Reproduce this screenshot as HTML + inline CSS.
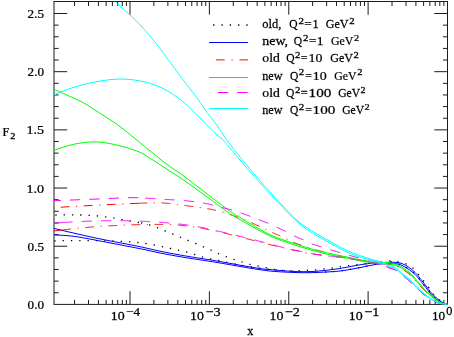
<!DOCTYPE html>
<html><head><meta charset="utf-8"><title>F2 plot</title>
<style>html,body{margin:0;padding:0;background:#fff;}body{width:454px;height:337px;position:relative;overflow:hidden;font-family:"Liberation Serif",serif;}</style>
</head><body>
<svg width="454" height="337" viewBox="0 0 454 337" style="position:absolute;left:0;top:0;will-change:transform;opacity:0.999">
<defs><clipPath id="cp"><rect x="54.0" y="1.5" width="393.5" height="302.9"/></clipPath></defs>
<g stroke="#1c1c1c" stroke-width="1" fill="none">
<rect x="54.0" y="1.5" width="393.5" height="302.9"/>
<path d="M74.52,304.4v-4.5M74.52,1.5v4.5M88.50,304.4v-4.5M88.50,1.5v4.5M98.41,304.4v-4.5M98.41,1.5v4.5M106.11,304.4v-4.5M106.11,1.5v4.5M112.39,304.4v-4.5M112.39,1.5v4.5M117.70,304.4v-4.5M117.70,1.5v4.5M122.31,304.4v-4.5M122.31,1.5v4.5M126.37,304.4v-4.5M126.37,1.5v4.5M130.00,304.4v-13.2M130.00,1.5v13.2M153.89,304.4v-4.5M153.89,1.5v4.5M167.87,304.4v-4.5M167.87,1.5v4.5M177.79,304.4v-4.5M177.79,1.5v4.5M185.48,304.4v-4.5M185.48,1.5v4.5M191.77,304.4v-4.5M191.77,1.5v4.5M197.08,304.4v-4.5M197.08,1.5v4.5M201.68,304.4v-4.5M201.68,1.5v4.5M205.74,304.4v-4.5M205.74,1.5v4.5M209.38,304.4v-13.2M209.38,1.5v13.2M233.27,304.4v-4.5M233.27,1.5v4.5M247.25,304.4v-4.5M247.25,1.5v4.5M257.16,304.4v-4.5M257.16,1.5v4.5M264.86,304.4v-4.5M264.86,1.5v4.5M271.14,304.4v-4.5M271.14,1.5v4.5M276.45,304.4v-4.5M276.45,1.5v4.5M281.06,304.4v-4.5M281.06,1.5v4.5M285.12,304.4v-4.5M285.12,1.5v4.5M288.75,304.4v-13.2M288.75,1.5v13.2M312.64,304.4v-4.5M312.64,1.5v4.5M326.62,304.4v-4.5M326.62,1.5v4.5M336.54,304.4v-4.5M336.54,1.5v4.5M344.23,304.4v-4.5M344.23,1.5v4.5M350.52,304.4v-4.5M350.52,1.5v4.5M355.83,304.4v-4.5M355.83,1.5v4.5M360.43,304.4v-4.5M360.43,1.5v4.5M364.49,304.4v-4.5M364.49,1.5v4.5M368.12,304.4v-13.2M368.12,1.5v13.2M392.02,304.4v-4.5M392.02,1.5v4.5M406.00,304.4v-4.5M406.00,1.5v4.5M415.91,304.4v-4.5M415.91,1.5v4.5M423.61,304.4v-4.5M423.61,1.5v4.5M429.89,304.4v-4.5M429.89,1.5v4.5M435.20,304.4v-4.5M435.20,1.5v4.5M439.81,304.4v-4.5M439.81,1.5v4.5M443.87,304.4v-4.5M443.87,1.5v4.5M54.0,292.76h4.6M447.5,292.76h-4.6M54.0,281.13h4.6M447.5,281.13h-4.6M54.0,269.49h4.6M447.5,269.49h-4.6M54.0,257.86h4.6M447.5,257.86h-4.6M54.0,246.22h13.2M447.5,246.22h-13.2M54.0,234.58h4.6M447.5,234.58h-4.6M54.0,222.95h4.6M447.5,222.95h-4.6M54.0,211.31h4.6M447.5,211.31h-4.6M54.0,199.68h4.6M447.5,199.68h-4.6M54.0,188.04h13.2M447.5,188.04h-13.2M54.0,176.40h4.6M447.5,176.40h-4.6M54.0,164.77h4.6M447.5,164.77h-4.6M54.0,153.13h4.6M447.5,153.13h-4.6M54.0,141.50h4.6M447.5,141.50h-4.6M54.0,129.86h13.2M447.5,129.86h-13.2M54.0,118.22h4.6M447.5,118.22h-4.6M54.0,106.59h4.6M447.5,106.59h-4.6M54.0,94.95h4.6M447.5,94.95h-4.6M54.0,83.32h4.6M447.5,83.32h-4.6M54.0,71.68h13.2M447.5,71.68h-13.2M54.0,60.04h4.6M447.5,60.04h-4.6M54.0,48.41h4.6M447.5,48.41h-4.6M54.0,36.77h4.6M447.5,36.77h-4.6M54.0,25.14h4.6M447.5,25.14h-4.6M54.0,13.50h13.2M447.5,13.50h-13.2"/>
</g>
<g clip-path="url(#cp)" fill="none" stroke-linecap="butt" stroke-linejoin="round">
<path d="M54.0,215.0 L55.0,215.0 L56.0,215.0 L57.0,214.9 L58.0,214.9 L59.0,214.9 L60.0,214.9 L61.0,214.9 L62.0,214.9 L63.0,214.9 L64.0,214.8 L65.0,214.8 L66.0,214.8 L67.0,214.8 L68.0,214.8 L69.0,214.8 L70.0,214.8 L71.0,214.8 L72.0,214.8 L73.0,214.8 L74.0,214.8 L75.0,214.9 L76.0,214.9 L77.0,214.9 L78.0,214.9 L79.0,214.9 L80.0,215.0 L81.0,215.0 L82.0,215.0 L83.0,215.1 L84.0,215.1 L85.0,215.1 L86.0,215.2 L87.0,215.2 L88.0,215.3 L89.0,215.3 L90.0,215.4 L91.0,215.5 L92.0,215.5 L93.0,215.6 L94.0,215.7 L95.0,215.7 L96.0,215.8 L97.0,215.9 L98.0,216.0 L99.0,216.1 L100.0,216.2 L101.0,216.3 L102.0,216.4 L103.0,216.5 L104.0,216.7 L105.0,216.8 L106.0,216.9 L107.0,217.1 L108.0,217.2 L109.0,217.3 L110.0,217.5 L111.0,217.7 L112.0,217.8 L113.0,218.0 L114.0,218.1 L115.0,218.3 L116.0,218.5 L117.0,218.7 L118.0,218.8 L119.0,219.0 L120.0,219.2 L121.0,219.4 L122.0,219.6 L123.0,219.8 L124.0,219.9 L125.0,220.1 L126.0,220.3 L127.0,220.5 L128.0,220.7 L129.0,220.8 L130.0,221.0 L131.0,221.2 L132.0,221.3 L133.0,221.5 L134.0,221.6 L135.0,221.8 L136.0,222.0 L137.0,222.1 L138.0,222.3 L139.0,222.5 L140.0,222.7 L141.0,222.9" stroke="#000000" stroke-width="1.3" stroke-dasharray="1.3 7.0" stroke-dashoffset="6.95"/>
<path d="M141.0,222.9 L142.0,223.1 L143.0,223.3 L144.0,223.5 L145.0,223.7 L146.0,224.0 L147.0,224.2 L148.0,224.5 L149.0,224.8 L150.0,225.0 L151.0,225.4 L152.0,225.7 L153.0,226.0 L154.0,226.4 L155.0,226.8 L156.0,227.2 L157.0,227.6 L158.0,228.0 L159.0,228.4 L160.0,228.8 L161.0,229.2 L162.0,229.6 L163.0,230.1 L164.0,230.5 L165.0,230.9 L166.0,231.3 L167.0,231.7 L168.0,232.1 L169.0,232.5 L170.0,233.0 L171.0,233.4 L172.0,233.8 L173.0,234.2 L174.0,234.6 L175.0,235.0 L176.0,235.4 L177.0,235.8 L178.0,236.2 L179.0,236.7 L180.0,237.1 L181.0,237.5 L182.0,237.9 L183.0,238.3 L184.0,238.7 L185.0,239.1 L186.0,239.5 L187.0,240.0 L188.0,240.4 L189.0,240.8 L190.0,241.2 L191.0,241.6 L192.0,242.0 L193.0,242.4 L194.0,242.9 L195.0,243.3 L196.0,243.7 L197.0,244.1 L198.0,244.5 L199.0,245.0 L200.0,245.4 L201.0,245.8 L202.0,246.2 L203.0,246.7 L204.0,247.1 L205.0,247.5 L206.0,247.9 L207.0,248.4 L208.0,248.8 L209.0,249.2 L210.0,249.6 L211.0,250.1 L212.0,250.6 L213.0,251.1 L214.0,251.6 L215.0,252.1 L216.0,252.6 L217.0,253.1 L218.0,253.5 L219.0,253.9 L220.0,254.3 L221.0,254.7 L222.0,255.1 L223.0,255.5 L224.0,255.8 L225.0,256.2 L226.0,256.6 L227.0,256.9 L228.0,257.3 L229.0,257.7 L230.0,258.1 L231.0,258.5 L232.0,258.8 L233.0,259.2 L234.0,259.5 L235.0,259.8 L236.0,260.1 L237.0,260.5 L238.0,260.8 L239.0,261.1 L240.0,261.4 L241.0,261.7 L242.0,262.0 L243.0,262.3 L244.0,262.7 L245.0,263.0 L246.0,263.3 L247.0,263.6 L248.0,263.9 L249.0,264.2 L250.0,264.4 L251.0,264.7 L252.0,264.9 L253.0,265.1 L254.0,265.3 L255.0,265.4 L256.0,265.6 L257.0,265.8 L258.0,266.0 L259.0,266.2 L260.0,266.4 L261.0,266.6 L262.0,266.8 L263.0,267.0 L264.0,267.2 L265.0,267.4 L266.0,267.6 L267.0,267.8 L268.0,268.0 L269.0,268.2 L270.0,268.4 L271.0,268.6 L272.0,268.8 L273.0,269.0 L274.0,269.2 L275.0,269.3 L276.0,269.5 L277.0,269.7 L278.0,269.8 L279.0,270.0 L280.0,270.1 L281.0,270.2 L282.0,270.4 L283.0,270.5 L284.0,270.6 L285.0,270.7 L286.0,270.8 L287.0,270.8 L288.0,270.9 L289.0,270.9 L290.0,270.9 L291.0,270.9 L292.0,270.9 L293.0,270.8 L294.0,270.8 L295.0,270.8 L296.0,270.8 L297.0,270.7 L298.0,270.7 L299.0,270.7 L300.0,270.6 L301.0,270.6 L302.0,270.6 L303.0,270.5 L304.0,270.5 L305.0,270.4 L306.0,270.4 L307.0,270.4 L308.0,270.3 L309.0,270.3 L310.0,270.3 L311.0,270.2 L312.0,270.2 L313.0,270.1 L314.0,270.1 L315.0,270.0 L316.0,269.9 L317.0,269.8 L318.0,269.7 L319.0,269.5 L320.0,269.4 L321.0,269.3 L322.0,269.2 L323.0,269.1 L324.0,268.9 L325.0,268.8 L326.0,268.7 L327.0,268.6 L328.0,268.5 L329.0,268.3 L330.0,268.2 L331.0,268.1 L332.0,268.0 L333.0,267.8 L334.0,267.7 L335.0,267.5 L336.0,267.4 L337.0,267.2 L338.0,267.1 L339.0,266.9 L340.0,266.8 L341.0,266.7 L342.0,266.6 L343.0,266.4 L344.0,266.3 L345.0,266.2 L346.0,266.1 L347.0,266.0 L348.0,265.8 L349.0,265.7 L350.0,265.6 L351.0,265.5 L352.0,265.3 L353.0,265.2 L354.0,265.1 L355.0,264.9 L356.0,264.8 L357.0,264.7 L358.0,264.6 L359.0,264.5 L360.0,264.4 L361.0,264.2 L362.0,264.1 L363.0,264.0 L364.0,263.9 L365.0,263.7 L366.0,263.6 L367.0,263.5 L368.0,263.3 L369.0,263.2 L370.0,263.1 L371.0,262.9 L372.0,262.8 L373.0,262.7 L374.0,262.6 L375.0,262.4 L376.0,262.3 L377.0,262.2 L378.0,262.1 L379.0,261.9 L380.0,261.8 L381.0,261.7 L382.0,261.6 L383.0,261.5 L384.0,261.4 L385.0,261.3 L386.0,261.2 L387.0,261.1 L388.0,261.0 L389.0,260.9 L390.0,260.9 L391.0,260.9 L392.0,260.9 L393.0,261.0 L394.0,261.1 L395.0,261.3 L396.0,261.4 L397.0,261.6 L398.0,261.8 L399.0,262.0 L400.0,262.2 L401.0,262.5 L402.0,262.7 L403.0,263.0 L404.0,263.3 L405.0,263.6 L406.0,263.9 L407.0,264.3 L408.0,264.7 L409.0,265.1 L410.0,265.7 L411.0,266.4 L412.0,267.2 L413.0,268.1 L414.0,269.2 L415.0,270.3 L416.0,271.4 L417.0,272.6 L418.0,273.9 L419.0,275.1 L420.0,276.4 L421.0,277.7 L422.0,278.9 L423.0,280.2 L424.0,281.5 L425.0,282.8 L426.0,284.1 L427.0,285.3 L428.0,286.6 L429.0,287.9 L430.0,289.3 L431.0,290.9 L432.0,292.5 L433.0,294.0 L434.0,295.3 L435.0,296.4 L436.0,297.4 L437.0,298.2 L438.0,299.0 L439.0,299.7 L440.0,300.3 L441.0,300.9 L442.0,301.5 L443.0,302.1 L444.0,302.6 L445.0,303.1 L446.0,303.5 L447.0,303.9 L448.0,304.3" stroke="#000000" stroke-width="1.3" stroke-dasharray="1.3 7.0" stroke-dashoffset="0"/>
<path d="M54.0,240.9 L55.0,240.9 L56.0,240.8 L57.0,240.8 L58.0,240.8 L59.0,240.8 L60.0,240.8 L61.0,240.7 L62.0,240.7 L63.0,240.7 L64.0,240.7 L65.0,240.7 L66.0,240.7 L67.0,240.7 L68.0,240.7 L69.0,240.6 L70.0,240.6 L71.0,240.6 L72.0,240.6 L73.0,240.6 L74.0,240.6 L75.0,240.6 L76.0,240.6 L77.0,240.6 L78.0,240.6 L79.0,240.6 L80.0,240.6 L81.0,240.6 L82.0,240.6 L83.0,240.6 L84.0,240.6 L85.0,240.6 L86.0,240.6 L87.0,240.6 L88.0,240.6 L89.0,240.6 L90.0,240.6 L91.0,240.6 L92.0,240.7 L93.0,240.7 L94.0,240.7 L95.0,240.7 L96.0,240.7 L97.0,240.7 L98.0,240.7 L99.0,240.7 L100.0,240.8 L101.0,240.8 L102.0,240.8 L103.0,240.8 L104.0,240.8 L105.0,240.8 L106.0,240.9 L107.0,240.9 L108.0,240.9 L109.0,240.9 L110.0,240.9 L111.0,241.0 L112.0,241.0 L113.0,241.0 L114.0,241.0 L115.0,241.1 L116.0,241.1 L117.0,241.1 L118.0,241.1 L119.0,241.2 L120.0,241.2 L121.0,241.3 L122.0,241.3 L123.0,241.4 L124.0,241.4 L125.0,241.5 L126.0,241.5 L127.0,241.6 L128.0,241.7 L129.0,241.7 L130.0,241.8 L131.0,241.9 L132.0,242.0 L133.0,242.1 L134.0,242.1 L135.0,242.2 L136.0,242.3 L137.0,242.4 L138.0,242.5 L139.0,242.6 L140.0,242.8 L141.0,242.9 L142.0,243.0 L143.0,243.1 L144.0,243.3 L145.0,243.4 L146.0,243.6 L147.0,243.7 L148.0,243.9 L149.0,244.1 L150.0,244.3 L151.0,244.4 L152.0,244.6 L153.0,244.8 L154.0,245.0 L155.0,245.2 L156.0,245.4 L157.0,245.6 L158.0,245.8 L159.0,246.0 L160.0,246.2 L161.0,246.4 L162.0,246.6 L163.0,246.8 L164.0,247.1 L165.0,247.3 L166.0,247.5 L167.0,247.7 L168.0,247.9 L169.0,248.1 L170.0,248.3 L171.0,248.5 L172.0,248.8 L173.0,249.0 L174.0,249.2 L175.0,249.4 L176.0,249.7 L177.0,249.9 L178.0,250.1 L179.0,250.3 L180.0,250.6 L181.0,250.8 L182.0,251.0 L183.0,251.3 L184.0,251.5 L185.0,251.7 L186.0,252.0 L187.0,252.2 L188.0,252.5 L189.0,252.8 L190.0,253.1 L191.0,253.4 L192.0,253.7 L193.0,254.0 L194.0,254.3 L195.0,254.6 L196.0,254.9 L197.0,255.3 L198.0,255.6 L199.0,255.9 L200.0,256.2 L201.0,256.5 L202.0,256.8 L203.0,257.1 L204.0,257.4 L205.0,257.7 L206.0,257.9 L207.0,258.2 L208.0,258.4 L209.0,258.6 L210.0,258.8 L211.0,259.0 L212.0,259.2 L213.0,259.4 L214.0,259.6 L215.0,259.8 L216.0,260.0 L217.0,260.2 L218.0,260.4 L219.0,260.6 L220.0,260.8 L221.0,261.0 L222.0,261.2 L223.0,261.4 L224.0,261.7 L225.0,261.9 L226.0,262.1 L227.0,262.3 L228.0,262.5 L229.0,262.7 L230.0,262.9 L231.0,263.1 L232.0,263.3 L233.0,263.5 L234.0,263.7 L235.0,263.9 L236.0,264.1 L237.0,264.3 L238.0,264.5 L239.0,264.7 L240.0,264.9 L241.0,265.1 L242.0,265.3 L243.0,265.5 L244.0,265.6 L245.0,265.8 L246.0,266.0 L247.0,266.2 L248.0,266.4 L249.0,266.5 L250.0,266.7 L251.0,266.9 L252.0,267.0 L253.0,267.2 L254.0,267.4 L255.0,267.5 L256.0,267.7 L257.0,267.8 L258.0,268.0 L259.0,268.1 L260.0,268.2 L261.0,268.4 L262.0,268.5 L263.0,268.6 L264.0,268.7 L265.0,268.9 L266.0,269.0 L267.0,269.1 L268.0,269.2 L269.0,269.3 L270.0,269.4 L271.0,269.5 L272.0,269.6 L273.0,269.7 L274.0,269.8 L275.0,269.9 L276.0,270.0 L277.0,270.1 L278.0,270.2 L279.0,270.2 L280.0,270.3 L281.0,270.4 L282.0,270.5 L283.0,270.6 L284.0,270.7 L285.0,270.8 L286.0,270.9 L287.0,271.0 L288.0,271.1 L289.0,271.2 L290.0,271.2 L291.0,271.3 L292.0,271.4 L293.0,271.5 L294.0,271.5 L295.0,271.6 L296.0,271.7 L297.0,271.7 L298.0,271.8 L299.0,271.8 L300.0,271.9 L301.0,271.9 L302.0,271.9 L303.0,272.0 L304.0,272.0 L305.0,272.0 L306.0,272.0 L307.0,272.0 L308.0,272.1 L309.0,272.1 L310.0,272.1 L311.0,272.1 L312.0,272.1 L313.0,272.1 L314.0,272.1 L315.0,272.1 L316.0,272.1 L317.0,272.1 L318.0,272.1 L319.0,272.1 L320.0,272.1 L321.0,272.1 L322.0,272.1 L323.0,272.1 L324.0,272.0 L325.0,272.0 L326.0,272.0 L327.0,271.9 L328.0,271.9 L329.0,271.9 L330.0,271.8 L331.0,271.8 L332.0,271.7 L333.0,271.6 L334.0,271.6 L335.0,271.5 L336.0,271.4 L337.0,271.3 L338.0,271.2 L339.0,271.1 L340.0,271.0 L341.0,270.8 L342.0,270.7 L343.0,270.5 L344.0,270.4 L345.0,270.2 L346.0,270.1 L347.0,269.9 L348.0,269.8 L349.0,269.6 L350.0,269.4 L351.0,269.2 L352.0,269.1 L353.0,268.9 L354.0,268.7 L355.0,268.5 L356.0,268.3 L357.0,268.1 L358.0,267.9 L359.0,267.7 L360.0,267.5 L361.0,267.3 L362.0,267.1 L363.0,266.8 L364.0,266.6 L365.0,266.4 L366.0,266.2 L367.0,266.0 L368.0,265.8 L369.0,265.6 L370.0,265.3 L371.0,265.1 L372.0,264.9 L373.0,264.7 L374.0,264.5 L375.0,264.3 L376.0,264.1 L377.0,263.9 L378.0,263.7 L379.0,263.5 L380.0,263.2 L381.0,263.1 L382.0,262.9 L383.0,262.7 L384.0,262.5 L385.0,262.3 L386.0,262.1 L387.0,262.0 L388.0,261.8 L389.0,261.7 L390.0,261.6 L391.0,261.7 L392.0,261.9 L393.0,262.1 L394.0,262.4 L395.0,262.7 L396.0,263.1 L397.0,263.4 L398.0,263.8 L399.0,264.1 L400.0,264.5 L401.0,264.9 L402.0,265.3 L403.0,265.8 L404.0,266.2 L405.0,266.8 L406.0,267.3 L407.0,267.9 L408.0,268.6 L409.0,269.2 L410.0,269.9 L411.0,270.7 L412.0,271.5 L413.0,272.3 L414.0,273.2 L415.0,274.1 L416.0,275.1 L417.0,276.2 L418.0,277.4 L419.0,278.7 L420.0,279.9 L421.0,281.2 L422.0,282.4 L423.0,283.7 L424.0,285.0 L425.0,286.3 L426.0,287.6 L427.0,288.9 L428.0,290.2 L429.0,291.5 L430.0,292.8 L431.0,294.1 L432.0,295.2 L433.0,296.3 L434.0,297.2 L435.0,298.1 L436.0,298.9 L437.0,299.7 L438.0,300.5 L439.0,301.1 L440.0,301.8 L441.0,302.3 L442.0,302.8 L443.0,303.3 L444.0,303.7 L445.0,304.0 L446.0,304.2 L447.0,304.3 L448.0,304.3" stroke="#000000" stroke-width="1.3" stroke-dasharray="1.3 7.0" stroke-dashoffset="7.95"/>
<path d="M54.0,228.4 L55.0,228.6 L56.0,228.9 L57.0,229.1 L58.0,229.4 L59.0,229.6 L60.0,229.9 L61.0,230.1 L62.0,230.3 L63.0,230.6 L64.0,230.8 L65.0,231.1 L66.0,231.3 L67.0,231.5 L68.0,231.8 L69.0,232.0 L70.0,232.2 L71.0,232.5 L72.0,232.7 L73.0,232.9 L74.0,233.2 L75.0,233.4 L76.0,233.6 L77.0,233.8 L78.0,234.1 L79.0,234.3 L80.0,234.5 L81.0,234.8 L82.0,235.0 L83.0,235.2 L84.0,235.4 L85.0,235.7 L86.0,235.9 L87.0,236.1 L88.0,236.3 L89.0,236.5 L90.0,236.8 L91.0,237.0 L92.0,237.2 L93.0,237.4 L94.0,237.6 L95.0,237.8 L96.0,238.1 L97.0,238.3 L98.0,238.5 L99.0,238.7 L100.0,238.9 L101.0,239.1 L102.0,239.3 L103.0,239.5 L104.0,239.7 L105.0,239.9 L106.0,240.1 L107.0,240.3 L108.0,240.5 L109.0,240.7 L110.0,240.9 L111.0,241.1 L112.0,241.3 L113.0,241.5 L114.0,241.7 L115.0,241.9 L116.0,242.1 L117.0,242.2 L118.0,242.4 L119.0,242.6 L120.0,242.8 L121.0,243.0 L122.0,243.2 L123.0,243.4 L124.0,243.6 L125.0,243.8 L126.0,243.9 L127.0,244.1 L128.0,244.3 L129.0,244.5 L130.0,244.7 L131.0,244.9 L132.0,245.1 L133.0,245.3 L134.0,245.5 L135.0,245.7 L136.0,245.9 L137.0,246.1 L138.0,246.3 L139.0,246.5 L140.0,246.7 L141.0,246.9 L142.0,247.1 L143.0,247.3 L144.0,247.6 L145.0,247.8 L146.0,248.0 L147.0,248.2 L148.0,248.5 L149.0,248.7 L150.0,248.9 L151.0,249.2 L152.0,249.4 L153.0,249.6 L154.0,249.9 L155.0,250.1 L156.0,250.3 L157.0,250.5 L158.0,250.8 L159.0,251.0 L160.0,251.2 L161.0,251.4 L162.0,251.6 L163.0,251.8 L164.0,252.0 L165.0,252.2 L166.0,252.4 L167.0,252.6 L168.0,252.8 L169.0,253.0 L170.0,253.2 L171.0,253.4 L172.0,253.5 L173.0,253.7 L174.0,253.9 L175.0,254.1 L176.0,254.3 L177.0,254.5 L178.0,254.6 L179.0,254.8 L180.0,255.0 L181.0,255.2 L182.0,255.3 L183.0,255.5 L184.0,255.7 L185.0,255.9 L186.0,256.0 L187.0,256.2 L188.0,256.4 L189.0,256.5 L190.0,256.7 L191.0,256.9 L192.0,257.0 L193.0,257.2 L194.0,257.3 L195.0,257.5 L196.0,257.7 L197.0,257.8 L198.0,258.0 L199.0,258.1 L200.0,258.3 L201.0,258.4 L202.0,258.6 L203.0,258.7 L204.0,258.9 L205.0,259.1 L206.0,259.2 L207.0,259.4 L208.0,259.5 L209.0,259.7 L210.0,259.9 L211.0,260.0 L212.0,260.2 L213.0,260.3 L214.0,260.5 L215.0,260.7 L216.0,260.9 L217.0,261.0 L218.0,261.2 L219.0,261.4 L220.0,261.5 L221.0,261.7 L222.0,261.9 L223.0,262.1 L224.0,262.3 L225.0,262.4 L226.0,262.6 L227.0,262.8 L228.0,263.0 L229.0,263.2 L230.0,263.4 L231.0,263.5 L232.0,263.7 L233.0,263.9 L234.0,264.1 L235.0,264.3 L236.0,264.4 L237.0,264.6 L238.0,264.8 L239.0,265.0 L240.0,265.2 L241.0,265.4 L242.0,265.5 L243.0,265.7 L244.0,265.9 L245.0,266.1 L246.0,266.2 L247.0,266.4 L248.0,266.6 L249.0,266.8 L250.0,266.9 L251.0,267.1 L252.0,267.3 L253.0,267.4 L254.0,267.6 L255.0,267.8 L256.0,267.9 L257.0,268.1 L258.0,268.2 L259.0,268.4 L260.0,268.5 L261.0,268.7 L262.0,268.8 L263.0,268.9 L264.0,269.1 L265.0,269.2 L266.0,269.3 L267.0,269.4 L268.0,269.5 L269.0,269.5 L270.0,269.6 L271.0,269.7 L272.0,269.8 L273.0,269.9 L274.0,270.0 L275.0,270.1 L276.0,270.1 L277.0,270.2 L278.0,270.3 L279.0,270.4 L280.0,270.5 L281.0,270.5 L282.0,270.6 L283.0,270.7 L284.0,270.8 L285.0,270.9 L286.0,270.9 L287.0,271.0 L288.0,271.1 L289.0,271.1 L290.0,271.2 L291.0,271.3 L292.0,271.3 L293.0,271.4 L294.0,271.4 L295.0,271.5 L296.0,271.6 L297.0,271.6 L298.0,271.6 L299.0,271.7 L300.0,271.7 L301.0,271.7 L302.0,271.7 L303.0,271.7 L304.0,271.7 L305.0,271.7 L306.0,271.7 L307.0,271.7 L308.0,271.7 L309.0,271.6 L310.0,271.6 L311.0,271.6 L312.0,271.5 L313.0,271.5 L314.0,271.4 L315.0,271.3 L316.0,271.3 L317.0,271.2 L318.0,271.1 L319.0,271.0 L320.0,270.9 L321.0,270.8 L322.0,270.7 L323.0,270.6 L324.0,270.5 L325.0,270.4 L326.0,270.3 L327.0,270.2 L328.0,270.1 L329.0,269.9 L330.0,269.8 L331.0,269.7 L332.0,269.6 L333.0,269.4 L334.0,269.3 L335.0,269.2 L336.0,269.0 L337.0,268.9 L338.0,268.7 L339.0,268.6 L340.0,268.4 L341.0,268.3 L342.0,268.1 L343.0,267.9 L344.0,267.8 L345.0,267.6 L346.0,267.4 L347.0,267.2 L348.0,267.0 L349.0,266.8 L350.0,266.6 L351.0,266.4 L352.0,266.2 L353.0,266.0 L354.0,265.9 L355.0,265.7 L356.0,265.5 L357.0,265.3 L358.0,265.1 L359.0,265.0 L360.0,264.8 L361.0,264.6 L362.0,264.5 L363.0,264.3 L364.0,264.2 L365.0,264.1 L366.0,263.9 L367.0,263.8 L368.0,263.7 L369.0,263.5 L370.0,263.4 L371.0,263.3 L372.0,263.2 L373.0,263.1 L374.0,263.0 L375.0,262.9 L376.0,262.8 L377.0,262.8 L378.0,262.7 L379.0,262.6 L380.0,262.6 L381.0,262.6 L382.0,262.5 L383.0,262.5 L384.0,262.5 L385.0,262.4 L386.0,262.4 L387.0,262.4 L388.0,262.4 L389.0,262.4 L390.0,262.4 L391.0,262.4 L392.0,262.3 L393.0,262.3 L394.0,262.3 L395.0,262.4 L396.0,262.4 L397.0,262.5 L398.0,262.6 L399.0,262.8 L400.0,263.0 L401.0,263.3 L402.0,263.7 L403.0,264.0 L404.0,264.5 L405.0,264.9 L406.0,265.5 L407.0,266.0 L408.0,266.7 L409.0,267.4 L410.0,268.1 L411.0,268.9 L412.0,269.7 L413.0,270.6 L414.0,271.5 L415.0,272.4 L416.0,273.4 L417.0,274.5 L418.0,275.7 L419.0,276.9 L420.0,278.2 L421.0,279.5 L422.0,280.7 L423.0,282.0 L424.0,283.3 L425.0,284.6 L426.0,285.9 L427.0,287.2 L428.0,288.6 L429.0,289.9 L430.0,291.2 L431.0,292.4 L432.0,293.6 L433.0,294.7 L434.0,295.7 L435.0,296.6 L436.0,297.5 L437.0,298.4 L438.0,299.3 L439.0,300.0 L440.0,300.8 L441.0,301.5 L442.0,302.2 L443.0,302.8 L444.0,303.3 L445.0,303.7 L446.0,304.0 L447.0,304.2 L448.0,304.3" stroke="#0000ff" stroke-width="1.0"/>
<path d="M54.0,234.9 L55.0,234.9 L56.0,235.0 L57.0,235.0 L58.0,235.1 L59.0,235.1 L60.0,235.2 L61.0,235.2 L62.0,235.3 L63.0,235.3 L64.0,235.4 L65.0,235.5 L66.0,235.5 L67.0,235.6 L68.0,235.7 L69.0,235.8 L70.0,235.9 L71.0,236.0 L72.0,236.1 L73.0,236.2 L74.0,236.3 L75.0,236.5 L76.0,236.6 L77.0,236.8 L78.0,236.9 L79.0,237.1 L80.0,237.3 L81.0,237.4 L82.0,237.6 L83.0,237.8 L84.0,238.0 L85.0,238.2 L86.0,238.3 L87.0,238.5 L88.0,238.7 L89.0,238.9 L90.0,239.1 L91.0,239.3 L92.0,239.5 L93.0,239.6 L94.0,239.8 L95.0,240.0 L96.0,240.2 L97.0,240.4 L98.0,240.6 L99.0,240.8 L100.0,241.0 L101.0,241.2 L102.0,241.4 L103.0,241.6 L104.0,241.7 L105.0,241.9 L106.0,242.1 L107.0,242.3 L108.0,242.5 L109.0,242.7 L110.0,242.9 L111.0,243.1 L112.0,243.3 L113.0,243.5 L114.0,243.7 L115.0,243.9 L116.0,244.0 L117.0,244.2 L118.0,244.4 L119.0,244.6 L120.0,244.8 L121.0,245.0 L122.0,245.2 L123.0,245.4 L124.0,245.6 L125.0,245.8 L126.0,246.0 L127.0,246.2 L128.0,246.4 L129.0,246.6 L130.0,246.7 L131.0,246.9 L132.0,247.1 L133.0,247.3 L134.0,247.5 L135.0,247.7 L136.0,247.9 L137.0,248.1 L138.0,248.3 L139.0,248.5 L140.0,248.7 L141.0,248.9 L142.0,249.1 L143.0,249.3 L144.0,249.5 L145.0,249.7 L146.0,249.9 L147.0,250.2 L148.0,250.4 L149.0,250.6 L150.0,250.8 L151.0,251.1 L152.0,251.3 L153.0,251.5 L154.0,251.7 L155.0,251.9 L156.0,252.2 L157.0,252.4 L158.0,252.6 L159.0,252.8 L160.0,253.0 L161.0,253.2 L162.0,253.4 L163.0,253.6 L164.0,253.8 L165.0,254.0 L166.0,254.2 L167.0,254.4 L168.0,254.5 L169.0,254.7 L170.0,254.9 L171.0,255.1 L172.0,255.3 L173.0,255.4 L174.0,255.6 L175.0,255.8 L176.0,256.0 L177.0,256.2 L178.0,256.3 L179.0,256.5 L180.0,256.7 L181.0,256.8 L182.0,257.0 L183.0,257.2 L184.0,257.3 L185.0,257.5 L186.0,257.7 L187.0,257.8 L188.0,258.0 L189.0,258.1 L190.0,258.3 L191.0,258.5 L192.0,258.6 L193.0,258.8 L194.0,258.9 L195.0,259.1 L196.0,259.2 L197.0,259.4 L198.0,259.5 L199.0,259.7 L200.0,259.8 L201.0,260.0 L202.0,260.1 L203.0,260.3 L204.0,260.4 L205.0,260.6 L206.0,260.7 L207.0,260.9 L208.0,261.0 L209.0,261.2 L210.0,261.4 L211.0,261.5 L212.0,261.7 L213.0,261.8 L214.0,262.0 L215.0,262.1 L216.0,262.3 L217.0,262.5 L218.0,262.6 L219.0,262.8 L220.0,263.0 L221.0,263.1 L222.0,263.3 L223.0,263.5 L224.0,263.7 L225.0,263.8 L226.0,264.0 L227.0,264.2 L228.0,264.3 L229.0,264.5 L230.0,264.7 L231.0,264.9 L232.0,265.0 L233.0,265.2 L234.0,265.4 L235.0,265.6 L236.0,265.7 L237.0,265.9 L238.0,266.1 L239.0,266.3 L240.0,266.4 L241.0,266.6 L242.0,266.8 L243.0,266.9 L244.0,267.1 L245.0,267.3 L246.0,267.5 L247.0,267.6 L248.0,267.8 L249.0,268.0 L250.0,268.1 L251.0,268.3 L252.0,268.5 L253.0,268.6 L254.0,268.8 L255.0,268.9 L256.0,269.1 L257.0,269.3 L258.0,269.4 L259.0,269.6 L260.0,269.7 L261.0,269.9 L262.0,270.0 L263.0,270.2 L264.0,270.3 L265.0,270.4 L266.0,270.5 L267.0,270.7 L268.0,270.8 L269.0,270.9 L270.0,271.0 L271.0,271.1 L272.0,271.2 L273.0,271.3 L274.0,271.4 L275.0,271.4 L276.0,271.5 L277.0,271.6 L278.0,271.7 L279.0,271.7 L280.0,271.8 L281.0,271.9 L282.0,271.9 L283.0,272.0 L284.0,272.0 L285.0,272.1 L286.0,272.1 L287.0,272.2 L288.0,272.2 L289.0,272.3 L290.0,272.3 L291.0,272.3 L292.0,272.4 L293.0,272.4 L294.0,272.5 L295.0,272.5 L296.0,272.5 L297.0,272.6 L298.0,272.6 L299.0,272.6 L300.0,272.7 L301.0,272.7 L302.0,272.7 L303.0,272.7 L304.0,272.7 L305.0,272.7 L306.0,272.7 L307.0,272.7 L308.0,272.7 L309.0,272.7 L310.0,272.7 L311.0,272.7 L312.0,272.6 L313.0,272.6 L314.0,272.6 L315.0,272.5 L316.0,272.5 L317.0,272.5 L318.0,272.4 L319.0,272.4 L320.0,272.3 L321.0,272.3 L322.0,272.2 L323.0,272.2 L324.0,272.1 L325.0,272.1 L326.0,272.0 L327.0,272.0 L328.0,271.9 L329.0,271.9 L330.0,271.8 L331.0,271.7 L332.0,271.7 L333.0,271.6 L334.0,271.5 L335.0,271.4 L336.0,271.4 L337.0,271.3 L338.0,271.2 L339.0,271.1 L340.0,271.0 L341.0,270.8 L342.0,270.7 L343.0,270.6 L344.0,270.4 L345.0,270.3 L346.0,270.1 L347.0,270.0 L348.0,269.8 L349.0,269.6 L350.0,269.4 L351.0,269.3 L352.0,269.1 L353.0,268.9 L354.0,268.7 L355.0,268.5 L356.0,268.3 L357.0,268.1 L358.0,268.0 L359.0,267.8 L360.0,267.6 L361.0,267.4 L362.0,267.2 L363.0,267.0 L364.0,266.8 L365.0,266.6 L366.0,266.3 L367.0,266.1 L368.0,265.9 L369.0,265.7 L370.0,265.5 L371.0,265.3 L372.0,265.1 L373.0,264.9 L374.0,264.7 L375.0,264.6 L376.0,264.4 L377.0,264.3 L378.0,264.2 L379.0,264.1 L380.0,264.0 L381.0,263.9 L382.0,263.9 L383.0,263.8 L384.0,263.7 L385.0,263.7 L386.0,263.6 L387.0,263.6 L388.0,263.6 L389.0,263.5 L390.0,263.5 L391.0,263.4 L392.0,263.4 L393.0,263.5 L394.0,263.5 L395.0,263.6 L396.0,263.7 L397.0,263.9 L398.0,264.0 L399.0,264.3 L400.0,264.6 L401.0,265.0 L402.0,265.5 L403.0,266.0 L404.0,266.5 L405.0,267.1 L406.0,267.7 L407.0,268.3 L408.0,268.9 L409.0,269.6 L410.0,270.3 L411.0,271.0 L412.0,271.8 L413.0,272.6 L414.0,273.5 L415.0,274.4 L416.0,275.4 L417.0,276.5 L418.0,277.7 L419.0,278.9 L420.0,280.2 L421.0,281.4 L422.0,282.7 L423.0,283.9 L424.0,285.2 L425.0,286.5 L426.0,287.8 L427.0,289.1 L428.0,290.4 L429.0,291.7 L430.0,293.0 L431.0,294.2 L432.0,295.4 L433.0,296.4 L434.0,297.4 L435.0,298.2 L436.0,299.1 L437.0,299.8 L438.0,300.5 L439.0,301.2 L440.0,301.8 L441.0,302.4 L442.0,302.9 L443.0,303.4 L444.0,303.7 L445.0,304.0 L446.0,304.2 L447.0,304.3 L448.0,304.3" stroke="#0000ff" stroke-width="1.0"/>
<path d="M54.0,207.6 L55.0,207.5 L56.0,207.5 L57.0,207.4 L58.0,207.4 L59.0,207.3 L60.0,207.2 L61.0,207.2 L62.0,207.1 L63.0,207.1 L64.0,207.0 L65.0,206.9 L66.0,206.9 L67.0,206.8 L68.0,206.8 L69.0,206.7 L70.0,206.6 L71.0,206.6 L72.0,206.5 L73.0,206.5 L74.0,206.4 L75.0,206.4 L76.0,206.3 L77.0,206.2 L78.0,206.2 L79.0,206.1 L80.0,206.1 L81.0,206.0 L82.0,206.0 L83.0,205.9 L84.0,205.9 L85.0,205.8 L86.0,205.8 L87.0,205.7 L88.0,205.6 L89.0,205.6 L90.0,205.5 L91.0,205.5 L92.0,205.4 L93.0,205.4 L94.0,205.3 L95.0,205.3 L96.0,205.2 L97.0,205.2 L98.0,205.1 L99.0,205.1 L100.0,205.0 L101.0,204.9 L102.0,204.9 L103.0,204.8 L104.0,204.8 L105.0,204.7 L106.0,204.7 L107.0,204.6 L108.0,204.6 L109.0,204.5 L110.0,204.5 L111.0,204.5 L112.0,204.4 L113.0,204.4 L114.0,204.3 L115.0,204.3 L116.0,204.2 L117.0,204.2 L118.0,204.1 L119.0,204.1 L120.0,204.1 L121.0,204.0 L122.0,204.0 L123.0,203.9 L124.0,203.9 L125.0,203.8 L126.0,203.8 L127.0,203.8 L128.0,203.7 L129.0,203.7 L130.0,203.6 L131.0,203.6 L132.0,203.5 L133.0,203.5 L134.0,203.5 L135.0,203.4 L136.0,203.4 L137.0,203.3 L138.0,203.3 L138.4,203.3" stroke="#ff0000" stroke-width="1.0" stroke-dasharray="8.8 6.6 1.15 6.6" stroke-dashoffset="16.45"/>
<path d="M138.4,203.3 L139.4,203.2 L140.4,203.2 L141.4,203.2 L142.4,203.1 L143.4,203.1 L144.4,203.0 L145.4,203.0 L146.4,203.0 L147.4,202.9 L148.4,202.9 L149.4,202.9 L150.4,202.8 L151.4,202.8 L152.4,202.8 L153.4,202.8 L154.4,202.8 L155.4,202.8 L156.4,202.8 L157.4,202.8 L158.4,202.8 L159.4,202.8 L160.4,202.8 L161.4,202.9 L162.4,202.9 L163.4,203.0 L164.4,203.0 L165.4,203.1 L166.4,203.2 L167.4,203.3 L168.4,203.4 L169.4,203.5 L170.4,203.6 L171.4,203.7 L172.4,203.8 L173.4,203.9 L174.4,204.0 L175.4,204.2 L176.4,204.3 L177.4,204.5 L178.4,204.6 L179.4,204.7 L180.4,204.9 L181.4,205.0 L182.4,205.1 L183.4,205.3 L184.4,205.4 L185.4,205.6 L186.4,205.7 L187.4,205.8 L188.4,206.0 L189.4,206.1 L190.4,206.2 L191.4,206.4 L192.4,206.5 L193.4,206.6 L194.4,206.8 L195.4,206.9 L196.4,207.1 L197.4,207.2 L198.4,207.3 L199.4,207.5 L200.4,207.6 L201.4,207.8 L202.4,207.9 L203.4,208.1 L204.4,208.2 L205.4,208.4 L206.4,208.6 L207.4,208.7 L208.4,208.9 L209.4,209.0 L210.4,209.2 L211.4,209.4 L212.4,209.6 L213.4,209.8 L214.4,210.0 L215.4,210.2 L216.4,210.5 L217.4,210.7 L218.4,210.9 L219.4,211.2 L220.4,211.5 L221.4,211.8 L222.4,212.0 L223.4,212.3 L224.4,212.6 L225.4,213.0 L226.4,213.3 L227.4,213.6 L228.4,213.9 L229.4,214.3 L230.4,214.6 L231.4,215.0 L232.4,215.3 L233.4,215.7 L234.4,216.0 L235.4,216.4 L236.4,216.8 L237.4,217.1 L238.4,217.5 L239.4,217.9 L240.4,218.3 L241.4,218.7 L242.4,219.1 L243.4,219.5 L244.4,219.9 L245.4,220.3 L246.4,220.7 L247.4,221.1 L248.4,221.5 L249.4,221.9 L250.4,222.4 L251.4,222.8 L252.4,223.2 L253.4,223.7 L254.4,224.1 L255.4,224.6 L256.4,225.0 L257.4,225.5 L258.4,225.9 L259.4,226.4 L260.4,226.9 L261.4,227.4 L262.4,227.9 L263.4,228.4 L264.4,228.8 L265.4,229.3 L266.4,229.8 L267.4,230.3 L268.4,230.8 L269.4,231.3 L270.4,231.7 L271.4,232.2 L272.4,232.6 L273.4,233.1 L274.4,233.5 L275.4,233.9 L276.4,234.3 L277.4,234.7 L278.4,235.2 L279.4,235.6 L280.4,236.1 L281.4,236.6 L282.4,237.0 L283.4,237.5 L284.4,238.0 L285.4,238.4 L286.4,238.9 L287.4,239.4 L288.4,239.9 L289.4,240.3 L290.4,240.8 L291.4,241.3 L292.4,241.8 L293.4,242.2 L294.4,242.7 L295.4,243.1 L296.4,243.5 L297.4,243.9 L298.4,244.2 L299.4,244.5 L300.4,244.9 L301.4,245.2 L302.4,245.6 L303.4,245.9 L304.4,246.3 L305.4,246.7 L306.4,247.1 L307.4,247.4 L308.4,247.8 L309.4,248.1 L310.4,248.5 L311.4,248.8 L312.4,249.1 L313.4,249.3 L314.4,249.6 L315.4,249.9 L316.4,250.1 L317.4,250.4 L318.4,250.6 L319.4,250.9 L320.4,251.1 L321.4,251.4 L322.4,251.6 L323.4,251.9 L324.4,252.1 L325.4,252.4 L326.4,252.6 L327.4,252.9 L328.4,253.1 L329.4,253.4 L330.4,253.6 L331.4,253.9 L332.4,254.1 L333.4,254.4 L334.4,254.6 L335.4,254.9 L336.4,255.1 L337.4,255.4 L338.4,255.6 L339.4,255.9 L340.4,256.1 L341.4,256.4 L342.4,256.7 L343.4,256.9 L344.4,257.2 L345.4,257.4 L346.4,257.6 L347.4,257.9 L348.4,258.1 L349.4,258.3 L350.4,258.5 L351.4,258.7 L352.4,258.9 L353.4,259.1 L354.4,259.3 L355.4,259.4 L356.4,259.6 L357.4,259.8 L358.4,259.9 L359.4,260.1 L360.4,260.2 L361.4,260.4 L362.4,260.6 L363.4,260.7 L364.4,260.9 L365.4,261.0 L366.4,261.2 L367.4,261.3 L368.4,261.5 L369.4,261.6 L370.4,261.8 L371.4,261.9 L372.4,262.1 L373.4,262.2 L374.4,262.3 L375.4,262.4 L376.4,262.6 L377.4,262.7 L378.4,262.8 L379.4,262.9 L380.4,263.0 L381.4,263.1 L382.4,263.2 L383.4,263.4 L384.4,263.5 L385.4,263.6 L386.4,263.7 L387.4,263.9 L388.4,264.0 L389.4,264.2 L390.4,264.3 L391.4,264.5 L392.4,264.7 L393.4,264.9 L394.4,265.2 L395.4,265.5 L396.4,265.8 L397.4,266.1 L398.4,266.5 L399.4,266.9 L400.4,267.4 L401.4,268.0 L402.4,268.7 L403.4,269.4 L404.4,270.1 L405.4,270.8 L406.4,271.5 L407.4,272.2 L408.4,273.0 L409.4,273.7 L410.4,274.5 L411.4,275.5 L412.4,276.5 L413.4,277.6 L414.4,278.8 L415.4,279.9 L416.4,281.0 L417.4,282.2 L418.4,283.3 L419.4,284.4 L420.4,285.6 L421.4,286.8 L422.4,287.9 L423.4,289.0 L424.4,290.1 L425.4,291.2 L426.4,292.1 L427.4,293.0 L428.4,293.8 L429.4,294.7 L430.4,295.5 L431.4,296.3 L432.4,297.1 L433.4,298.0 L434.4,298.7 L435.4,299.5 L436.4,300.2 L437.4,300.9 L438.4,301.6 L439.4,302.1 L440.4,302.6 L441.4,303.1 L442.4,303.5 L443.4,303.8 L444.4,304.0 L445.4,304.2 L446.4,304.3 L447.4,304.3 L448.0,304.3" stroke="#ff0000" stroke-width="1.0" stroke-dasharray="8.8 6.6 1.15 6.6" stroke-dashoffset="0"/>
<path d="M54.0,231.0 L55.0,230.9 L56.0,230.7 L57.0,230.6 L58.0,230.5 L59.0,230.4 L60.0,230.3 L61.0,230.1 L62.0,230.0 L62.3,230.0" stroke="#ff0000" stroke-width="1.0"/>
<path d="M62.3,230.0 L63.3,229.9 L64.3,229.7 L65.3,229.6 L66.3,229.5 L67.3,229.4 L68.3,229.3 L69.3,229.2 L70.3,229.1 L71.3,229.0 L72.3,228.8 L73.3,228.7 L74.3,228.6 L75.3,228.5 L76.3,228.4 L77.3,228.3 L78.3,228.2 L79.3,228.1 L80.3,228.0 L81.3,227.9 L82.3,227.8 L83.3,227.7 L84.3,227.6 L85.3,227.6 L86.3,227.5 L87.3,227.4 L88.3,227.3 L89.3,227.2 L90.3,227.1 L91.3,227.0 L92.3,227.0 L93.3,226.9 L94.3,226.8 L95.3,226.7 L96.3,226.7 L97.3,226.6 L98.3,226.5 L99.3,226.4 L100.3,226.4 L101.3,226.3 L102.3,226.2 L103.3,226.2 L104.3,226.1 L105.3,226.1 L106.3,226.0 L107.3,225.9 L108.3,225.9 L109.3,225.8 L110.3,225.8 L111.3,225.7 L112.3,225.7 L113.3,225.6 L114.3,225.6 L115.3,225.5 L116.3,225.5 L117.3,225.4 L118.3,225.4 L119.3,225.3 L120.3,225.3 L121.3,225.3 L122.3,225.2 L123.3,225.2 L124.3,225.1 L125.3,225.1 L126.3,225.1 L127.3,225.0 L128.3,225.0 L129.3,224.9 L130.3,224.9 L131.3,224.9 L132.3,224.8 L133.3,224.8 L134.3,224.8 L135.3,224.7 L136.3,224.7 L137.3,224.7 L138.3,224.6 L139.3,224.6 L140.3,224.6 L141.3,224.6 L142.3,224.5 L143.3,224.5 L144.3,224.5 L145.3,224.5 L146.3,224.5 L147.3,224.4 L148.3,224.4 L149.3,224.4 L150.3,224.4 L151.3,224.4 L152.3,224.4 L153.3,224.4 L154.3,224.4 L155.3,224.4 L156.3,224.4 L157.3,224.4 L158.3,224.4 L159.3,224.4 L160.3,224.4 L161.3,224.4 L162.3,224.4 L163.3,224.4 L164.3,224.4 L165.3,224.4 L166.3,224.4 L167.3,224.4 L168.3,224.5 L169.3,224.5 L170.3,224.5 L171.3,224.6 L172.3,224.6 L173.3,224.7 L174.3,224.7 L175.3,224.8 L176.3,224.9 L177.3,224.9 L178.3,225.0 L179.3,225.1 L180.3,225.2 L181.3,225.3 L182.3,225.4 L183.3,225.5 L184.3,225.6 L185.3,225.7 L186.3,225.9 L187.3,226.0 L188.3,226.1 L189.3,226.3 L190.3,226.4 L191.3,226.6 L192.3,226.7 L193.3,226.8 L194.3,227.0 L195.3,227.2 L196.3,227.3 L197.3,227.5 L198.3,227.6 L199.3,227.8 L200.3,228.0 L201.3,228.2 L202.3,228.3 L203.3,228.5 L204.3,228.7 L205.3,228.9 L206.3,229.1 L207.3,229.3 L208.3,229.5 L209.3,229.7 L210.3,229.9 L211.3,230.1 L212.3,230.3 L213.3,230.5 L214.3,230.7 L215.3,230.9 L216.3,231.2 L217.3,231.4 L218.3,231.6 L219.3,231.9 L220.3,232.1 L221.3,232.3 L222.3,232.6 L223.3,232.8 L224.3,233.1 L225.3,233.3 L226.3,233.6 L227.3,233.8 L228.3,234.1 L229.3,234.3 L230.3,234.6 L231.3,234.8 L232.3,235.1 L233.3,235.3 L234.3,235.6 L235.3,235.8 L236.3,236.1 L237.3,236.3 L238.3,236.6 L239.3,236.8 L240.3,237.1 L241.3,237.3 L242.3,237.6 L243.3,237.8 L244.3,238.1 L245.3,238.4 L246.3,238.6 L247.3,238.9 L248.3,239.1 L249.3,239.4 L250.3,239.6 L251.3,239.9 L252.3,240.1 L253.3,240.4 L254.3,240.6 L255.3,240.9 L256.3,241.2 L257.3,241.4 L258.3,241.7 L259.3,241.9 L260.3,242.2 L261.3,242.4 L262.3,242.7 L263.3,242.9 L264.3,243.2 L265.3,243.4 L266.3,243.7 L267.3,243.9 L268.3,244.2 L269.3,244.4 L270.3,244.7 L271.3,244.9 L272.3,245.2 L273.3,245.4 L274.3,245.7 L275.3,245.9 L276.3,246.1 L277.3,246.4 L278.3,246.6 L279.3,246.9 L280.3,247.1 L281.3,247.4 L282.3,247.6 L283.3,247.8 L284.3,248.1 L285.3,248.3 L286.3,248.6 L287.3,248.8 L288.3,249.0 L289.3,249.3 L290.3,249.5 L291.3,249.7 L292.3,250.0 L293.3,250.1 L294.3,250.3 L295.3,250.5 L296.3,250.6 L297.3,250.8 L298.3,251.0 L299.3,251.2 L300.3,251.5 L301.3,251.7 L302.3,252.0 L303.3,252.3 L304.3,252.6 L305.3,252.8 L306.3,253.0 L307.3,253.2 L308.3,253.4 L309.3,253.5 L310.3,253.7 L311.3,253.8 L312.3,254.0 L313.3,254.1 L314.3,254.3 L315.3,254.4 L316.3,254.5 L317.3,254.7 L318.3,254.8 L319.3,254.9 L320.3,255.0 L321.3,255.2 L322.3,255.3 L323.3,255.4 L324.3,255.5 L325.3,255.6 L326.3,255.7 L327.3,255.8 L328.3,256.0 L329.3,256.1 L330.3,256.2 L331.3,256.3 L332.3,256.4 L333.3,256.5 L334.3,256.6 L335.3,256.7 L336.3,256.8 L337.3,256.9 L338.3,257.0 L339.3,257.1 L340.3,257.2 L341.3,257.3 L342.3,257.4 L343.3,257.5 L344.3,257.6 L345.3,257.7 L346.3,257.9 L347.3,258.0 L348.3,258.1 L349.3,258.3 L350.3,258.5 L351.3,258.6 L352.3,258.8 L353.3,259.0 L354.3,259.2 L355.3,259.3 L356.3,259.5 L357.3,259.7 L358.3,259.9 L359.3,260.1 L360.3,260.3 L361.3,260.5 L362.3,260.7 L363.3,260.9 L364.3,261.1 L365.3,261.3 L366.3,261.5 L367.3,261.7 L368.3,261.8 L369.3,262.0 L370.3,262.1 L371.3,262.3 L372.3,262.4 L373.3,262.6 L374.3,262.7 L375.3,262.8 L376.3,262.9 L377.3,263.1 L378.3,263.2 L379.3,263.3 L380.3,263.4 L381.3,263.5 L382.3,263.6 L383.3,263.8 L384.3,263.9 L385.3,264.0 L386.3,264.1 L387.3,264.2 L388.3,264.4 L389.3,264.5 L390.3,264.7 L391.3,264.9 L392.3,265.1 L393.3,265.3 L394.3,265.5 L395.3,265.8 L396.3,266.1 L397.3,266.5 L398.3,266.8 L399.3,267.3 L400.3,267.8 L401.3,268.4 L402.3,269.0 L403.3,269.7 L404.3,270.4 L405.3,271.1 L406.3,271.9 L407.3,272.6 L408.3,273.3 L409.3,274.0 L410.3,274.8 L411.3,275.8 L412.3,276.8 L413.3,277.9 L414.3,279.0 L415.3,280.2 L416.3,281.3 L417.3,282.4 L418.3,283.5 L419.3,284.7 L420.3,285.8 L421.3,287.0 L422.3,288.1 L423.3,289.2 L424.3,290.3 L425.3,291.3 L426.3,292.3 L427.3,293.2 L428.3,294.0 L429.3,294.8 L430.3,295.6 L431.3,296.4 L432.3,297.3 L433.3,298.1 L434.3,298.8 L435.3,299.6 L436.3,300.3 L437.3,301.0 L438.3,301.6 L439.3,302.2 L440.3,302.7 L441.3,303.1 L442.3,303.5 L443.3,303.8 L444.3,304.1 L445.3,304.2 L446.3,304.3 L447.3,304.3 L448.0,304.3" stroke="#ff0000" stroke-width="1.0" stroke-dasharray="8.8 6.6 1.15 6.6" stroke-dashoffset="0"/>
<path d="M54.0,89.3 L55.0,89.7 L56.0,90.2 L57.0,90.6 L58.0,91.1 L59.0,91.5 L60.0,92.0 L61.0,92.4 L62.0,92.9 L63.0,93.3 L64.0,93.8 L65.0,94.2 L66.0,94.7 L67.0,95.1 L68.0,95.6 L69.0,96.0 L70.0,96.5 L71.0,96.9 L72.0,97.3 L73.0,97.8 L74.0,98.2 L75.0,98.7 L76.0,99.2 L77.0,99.6 L78.0,100.1 L79.0,100.5 L80.0,101.0 L81.0,101.5 L82.0,102.0 L83.0,102.5 L84.0,103.1 L85.0,103.7 L86.0,104.3 L87.0,104.9 L88.0,105.5 L89.0,106.1 L90.0,106.8 L91.0,107.4 L92.0,108.1 L93.0,108.7 L94.0,109.4 L95.0,110.0 L96.0,110.7 L97.0,111.3 L98.0,111.9 L99.0,112.6 L100.0,113.2 L101.0,113.9 L102.0,114.5 L103.0,115.2 L104.0,115.8 L105.0,116.5 L106.0,117.1 L107.0,117.8 L108.0,118.4 L109.0,119.1 L110.0,119.7 L111.0,120.4 L112.0,121.0 L113.0,121.6 L114.0,122.3 L115.0,123.0 L116.0,123.6 L117.0,124.3 L118.0,125.1 L119.0,125.8 L120.0,126.5 L121.0,127.3 L122.0,128.1 L123.0,128.9 L124.0,129.7 L125.0,130.5 L126.0,131.3 L127.0,132.1 L128.0,132.9 L129.0,133.7 L130.0,134.5 L131.0,135.4 L132.0,136.2 L133.0,137.0 L134.0,137.8 L135.0,138.6 L136.0,139.4 L137.0,140.2 L138.0,141.0 L139.0,141.8 L140.0,142.6 L141.0,143.5 L142.0,144.3 L143.0,145.1 L144.0,145.9 L145.0,146.7 L146.0,147.5 L147.0,148.4 L148.0,149.2 L149.0,150.0 L150.0,150.8 L151.0,151.6 L152.0,152.5 L153.0,153.3 L154.0,154.1 L155.0,154.9 L156.0,155.7 L157.0,156.5 L158.0,157.3 L159.0,158.2 L160.0,159.0 L161.0,159.8 L162.0,160.5 L163.0,161.3 L164.0,162.1 L165.0,162.9 L166.0,163.7 L167.0,164.4 L168.0,165.1 L169.0,165.9 L170.0,166.6 L171.0,167.3 L172.0,167.9 L173.0,168.6 L174.0,169.3 L175.0,170.0 L176.0,170.6 L177.0,171.3 L178.0,172.0 L179.0,172.6 L180.0,173.3 L181.0,174.0 L182.0,174.7 L183.0,175.4 L184.0,176.2 L185.0,176.9 L186.0,177.7 L187.0,178.4 L188.0,179.2 L189.0,180.0 L190.0,180.7 L191.0,181.5 L192.0,182.3 L193.0,183.0 L194.0,183.8 L195.0,184.6 L196.0,185.3 L197.0,186.1 L198.0,186.9 L199.0,187.7 L200.0,188.4 L201.0,189.2 L202.0,190.0 L203.0,190.7 L204.0,191.5 L205.0,192.3 L206.0,193.0 L207.0,193.8 L208.0,194.6 L209.0,195.3 L210.0,196.1 L211.0,196.9 L212.0,197.6 L213.0,198.4 L214.0,199.2 L215.0,199.9 L216.0,200.7 L217.0,201.5 L218.0,202.2 L219.0,203.0 L220.0,203.7 L221.0,204.5 L222.0,205.2 L223.0,206.0 L224.0,206.8 L225.0,207.5 L226.0,208.3 L227.0,209.0 L228.0,209.7 L229.0,210.5 L230.0,211.2 L231.0,211.9 L232.0,212.6 L233.0,213.2 L234.0,213.9 L235.0,214.5 L236.0,215.2 L237.0,215.8 L238.0,216.4 L239.0,217.0 L240.0,217.6 L241.0,218.2 L242.0,218.8 L243.0,219.4 L244.0,220.0 L245.0,220.6 L246.0,221.2 L247.0,221.8 L248.0,222.4 L249.0,223.0 L250.0,223.6 L251.0,224.2 L252.0,224.8 L253.0,225.4 L254.0,226.0 L255.0,226.6 L256.0,227.2 L257.0,227.7 L258.0,228.3 L259.0,228.9 L260.0,229.5 L261.0,230.0 L262.0,230.6 L263.0,231.1 L264.0,231.7 L265.0,232.2 L266.0,232.7 L267.0,233.2 L268.0,233.7 L269.0,234.2 L270.0,234.6 L271.0,235.1 L272.0,235.5 L273.0,236.0 L274.0,236.4 L275.0,236.8 L276.0,237.2 L277.0,237.6 L278.0,238.0 L279.0,238.4 L280.0,238.7 L281.0,239.1 L282.0,239.5 L283.0,239.8 L284.0,240.2 L285.0,240.5 L286.0,240.8 L287.0,241.2 L288.0,241.5 L289.0,241.9 L290.0,242.2 L291.0,242.6 L292.0,242.9 L293.0,243.2 L294.0,243.6 L295.0,243.9 L296.0,244.2 L297.0,244.5 L298.0,244.9 L299.0,245.2 L300.0,245.5 L301.0,245.8 L302.0,246.1 L303.0,246.4 L304.0,246.7 L305.0,247.0 L306.0,247.3 L307.0,247.6 L308.0,247.9 L309.0,248.2 L310.0,248.5 L311.0,248.8 L312.0,249.1 L313.0,249.3 L314.0,249.6 L315.0,249.9 L316.0,250.2 L317.0,250.4 L318.0,250.7 L319.0,251.0 L320.0,251.2 L321.0,251.5 L322.0,251.7 L323.0,252.0 L324.0,252.2 L325.0,252.5 L326.0,252.7 L327.0,252.9 L328.0,253.2 L329.0,253.4 L330.0,253.6 L331.0,253.8 L332.0,254.0 L333.0,254.2 L334.0,254.4 L335.0,254.6 L336.0,254.8 L337.0,255.0 L338.0,255.2 L339.0,255.4 L340.0,255.6 L341.0,255.8 L342.0,256.0 L343.0,256.2 L344.0,256.4 L345.0,256.6 L346.0,256.8 L347.0,257.0 L348.0,257.2 L349.0,257.4 L350.0,257.6 L351.0,257.8 L352.0,258.1 L353.0,258.3 L354.0,258.5 L355.0,258.7 L356.0,258.9 L357.0,259.1 L358.0,259.4 L359.0,259.6 L360.0,259.8 L361.0,260.0 L362.0,260.2 L363.0,260.4 L364.0,260.6 L365.0,260.9 L366.0,261.1 L367.0,261.3 L368.0,261.5 L369.0,261.7 L370.0,261.9 L371.0,262.1 L372.0,262.3 L373.0,262.4 L374.0,262.5 L375.0,262.5 L376.0,262.6 L377.0,262.6 L378.0,262.6 L379.0,262.5 L380.0,262.5 L381.0,262.5 L382.0,262.5 L383.0,262.5 L384.0,262.5 L385.0,262.5 L386.0,262.5 L387.0,262.6 L388.0,262.6 L389.0,262.8 L390.0,262.9 L391.0,263.0 L392.0,263.2 L393.0,263.4 L394.0,263.7 L395.0,263.9 L396.0,264.2 L397.0,264.6 L398.0,265.0 L399.0,265.4 L400.0,266.0 L401.0,266.5 L402.0,267.2 L403.0,267.8 L404.0,268.5 L405.0,269.2 L406.0,269.9 L407.0,270.7 L408.0,271.4 L409.0,272.1 L410.0,272.9 L411.0,273.8 L412.0,274.8 L413.0,275.9 L414.0,277.0 L415.0,278.2 L416.0,279.3 L417.0,280.5 L418.0,281.7 L419.0,282.8 L420.0,284.0 L421.0,285.2 L422.0,286.4 L423.0,287.6 L424.0,288.8 L425.0,289.8 L426.0,290.8 L427.0,291.8 L428.0,292.7 L429.0,293.6 L430.0,294.4 L431.0,295.3 L432.0,296.2 L433.0,297.0 L434.0,297.9 L435.0,298.7 L436.0,299.5 L437.0,300.2 L438.0,300.9 L439.0,301.5 L440.0,302.1 L441.0,302.6 L442.0,303.1 L443.0,303.5 L444.0,303.8 L445.0,304.0 L446.0,304.2 L447.0,304.3 L448.0,304.3" stroke="#00ff00" stroke-width="1.0"/>
<path d="M54.0,150.4 L55.0,150.0 L56.0,149.6 L57.0,149.3 L58.0,148.9 L59.0,148.5 L60.0,148.2 L61.0,147.9 L62.0,147.5 L63.0,147.2 L64.0,146.9 L65.0,146.6 L66.0,146.3 L67.0,146.0 L68.0,145.7 L69.0,145.5 L70.0,145.2 L71.0,145.0 L72.0,144.7 L73.0,144.5 L74.0,144.3 L75.0,144.0 L76.0,143.8 L77.0,143.7 L78.0,143.5 L79.0,143.3 L80.0,143.2 L81.0,143.0 L82.0,142.9 L83.0,142.7 L84.0,142.6 L85.0,142.5 L86.0,142.4 L87.0,142.3 L88.0,142.2 L89.0,142.1 L90.0,142.0 L91.0,142.0 L92.0,141.9 L93.0,141.9 L94.0,141.9 L95.0,141.9 L96.0,141.9 L97.0,142.0 L98.0,142.0 L99.0,142.1 L100.0,142.1 L101.0,142.2 L102.0,142.3 L103.0,142.5 L104.0,142.6 L105.0,142.7 L106.0,142.9 L107.0,143.1 L108.0,143.2 L109.0,143.4 L110.0,143.6 L111.0,143.8 L112.0,144.0 L113.0,144.2 L114.0,144.4 L115.0,144.6 L116.0,144.9 L117.0,145.1 L118.0,145.3 L119.0,145.6 L120.0,145.8 L121.0,146.1 L122.0,146.3 L123.0,146.6 L124.0,146.9 L125.0,147.1 L126.0,147.4 L127.0,147.7 L128.0,148.0 L129.0,148.4 L130.0,148.7 L131.0,149.0 L132.0,149.4 L133.0,149.7 L134.0,150.0 L135.0,150.4 L136.0,150.7 L137.0,151.1 L138.0,151.5 L139.0,151.9 L140.0,152.3 L141.0,152.8 L142.0,153.3 L143.0,153.8 L144.0,154.4 L145.0,155.0 L146.0,155.6 L147.0,156.3 L148.0,156.9 L149.0,157.5 L150.0,158.2 L151.0,158.8 L152.0,159.4 L153.0,160.1 L154.0,160.7 L155.0,161.4 L156.0,162.0 L157.0,162.7 L158.0,163.3 L159.0,164.0 L160.0,164.6 L161.0,165.3 L162.0,165.9 L163.0,166.6 L164.0,167.2 L165.0,167.9 L166.0,168.6 L167.0,169.2 L168.0,169.9 L169.0,170.5 L170.0,171.2 L171.0,171.8 L172.0,172.4 L173.0,173.1 L174.0,173.7 L175.0,174.4 L176.0,175.0 L177.0,175.7 L178.0,176.4 L179.0,177.0 L180.0,177.7 L181.0,178.3 L182.0,179.0 L183.0,179.7 L184.0,180.4 L185.0,181.0 L186.0,181.7 L187.0,182.4 L188.0,183.1 L189.0,183.8 L190.0,184.5 L191.0,185.3 L192.0,186.0 L193.0,186.7 L194.0,187.4 L195.0,188.1 L196.0,188.9 L197.0,189.6 L198.0,190.3 L199.0,191.1 L200.0,191.8 L201.0,192.5 L202.0,193.2 L203.0,194.0 L204.0,194.7 L205.0,195.4 L206.0,196.2 L207.0,196.9 L208.0,197.6 L209.0,198.4 L210.0,199.1 L211.0,199.8 L212.0,200.6 L213.0,201.3 L214.0,202.1 L215.0,202.8 L216.0,203.5 L217.0,204.3 L218.0,205.0 L219.0,205.8 L220.0,206.5 L221.0,207.3 L222.0,208.0 L223.0,208.7 L224.0,209.5 L225.0,210.2 L226.0,210.9 L227.0,211.6 L228.0,212.3 L229.0,213.0 L230.0,213.7 L231.0,214.3 L232.0,215.0 L233.0,215.6 L234.0,216.2 L235.0,216.8 L236.0,217.4 L237.0,218.0 L238.0,218.6 L239.0,219.2 L240.0,219.7 L241.0,220.3 L242.0,220.8 L243.0,221.4 L244.0,222.0 L245.0,222.5 L246.0,223.1 L247.0,223.6 L248.0,224.2 L249.0,224.8 L250.0,225.3 L251.0,225.9 L252.0,226.5 L253.0,227.0 L254.0,227.6 L255.0,228.2 L256.0,228.7 L257.0,229.3 L258.0,229.8 L259.0,230.4 L260.0,230.9 L261.0,231.5 L262.0,232.0 L263.0,232.5 L264.0,233.0 L265.0,233.5 L266.0,234.0 L267.0,234.5 L268.0,235.0 L269.0,235.5 L270.0,235.9 L271.0,236.4 L272.0,236.8 L273.0,237.2 L274.0,237.7 L275.0,238.1 L276.0,238.4 L277.0,238.8 L278.0,239.2 L279.0,239.6 L280.0,239.9 L281.0,240.3 L282.0,240.7 L283.0,241.0 L284.0,241.4 L285.0,241.7 L286.0,242.0 L287.0,242.4 L288.0,242.7 L289.0,243.1 L290.0,243.4 L291.0,243.8 L292.0,244.1 L293.0,244.4 L294.0,244.8 L295.0,245.1 L296.0,245.4 L297.0,245.7 L298.0,246.1 L299.0,246.4 L300.0,246.7 L301.0,247.0 L302.0,247.3 L303.0,247.6 L304.0,247.9 L305.0,248.2 L306.0,248.5 L307.0,248.8 L308.0,249.1 L309.0,249.4 L310.0,249.7 L311.0,250.0 L312.0,250.3 L313.0,250.6 L314.0,250.8 L315.0,251.1 L316.0,251.4 L317.0,251.6 L318.0,251.9 L319.0,252.2 L320.0,252.4 L321.0,252.7 L322.0,253.0 L323.0,253.2 L324.0,253.4 L325.0,253.7 L326.0,253.9 L327.0,254.2 L328.0,254.4 L329.0,254.6 L330.0,254.8 L331.0,255.0 L332.0,255.2 L333.0,255.4 L334.0,255.6 L335.0,255.8 L336.0,256.0 L337.0,256.2 L338.0,256.4 L339.0,256.6 L340.0,256.8 L341.0,257.0 L342.0,257.2 L343.0,257.4 L344.0,257.6 L345.0,257.8 L346.0,258.0 L347.0,258.2 L348.0,258.4 L349.0,258.6 L350.0,258.8 L351.0,259.0 L352.0,259.2 L353.0,259.4 L354.0,259.6 L355.0,259.8 L356.0,260.0 L357.0,260.2 L358.0,260.4 L359.0,260.6 L360.0,260.8 L361.0,261.0 L362.0,261.1 L363.0,261.3 L364.0,261.5 L365.0,261.7 L366.0,261.9 L367.0,262.1 L368.0,262.3 L369.0,262.5 L370.0,262.7 L371.0,262.9 L372.0,263.1 L373.0,263.2 L374.0,263.3 L375.0,263.4 L376.0,263.4 L377.0,263.5 L378.0,263.5 L379.0,263.5 L380.0,263.5 L381.0,263.5 L382.0,263.5 L383.0,263.6 L384.0,263.6 L385.0,263.6 L386.0,263.7 L387.0,263.7 L388.0,263.8 L389.0,264.0 L390.0,264.1 L391.0,264.3 L392.0,264.4 L393.0,264.6 L394.0,264.9 L395.0,265.1 L396.0,265.5 L397.0,265.8 L398.0,266.2 L399.0,266.6 L400.0,267.1 L401.0,267.7 L402.0,268.3 L403.0,269.0 L404.0,269.7 L405.0,270.4 L406.0,271.1 L407.0,271.9 L408.0,272.6 L409.0,273.3 L410.0,274.1 L411.0,275.0 L412.0,276.0 L413.0,277.1 L414.0,278.2 L415.0,279.3 L416.0,280.5 L417.0,281.6 L418.0,282.7 L419.0,283.9 L420.0,285.1 L421.0,286.2 L422.0,287.4 L423.0,288.5 L424.0,289.6 L425.0,290.7 L426.0,291.7 L427.0,292.6 L428.0,293.4 L429.0,294.3 L430.0,295.1 L431.0,295.9 L432.0,296.8 L433.0,297.6 L434.0,298.4 L435.0,299.2 L436.0,299.9 L437.0,300.6 L438.0,301.3 L439.0,301.9 L440.0,302.4 L441.0,302.9 L442.0,303.3 L443.0,303.6 L444.0,303.9 L445.0,304.2 L446.0,304.3 L447.0,304.3 L448.0,304.3" stroke="#00ff00" stroke-width="1.0"/>
<path d="M54.0,200.7 L55.0,200.7 L56.0,200.6 L57.0,200.6 L58.0,200.6 L59.0,200.5 L60.0,200.5 L61.0,200.4 L62.0,200.4 L63.0,200.4 L64.0,200.3 L65.0,200.3 L66.0,200.2 L67.0,200.2 L68.0,200.2 L69.0,200.1 L70.0,200.1 L71.0,200.0 L72.0,200.0 L73.0,200.0 L74.0,199.9 L75.0,199.9 L76.0,199.9 L77.0,199.8 L78.0,199.8 L79.0,199.7 L80.0,199.7 L81.0,199.7 L82.0,199.6 L83.0,199.6 L84.0,199.5 L85.0,199.5 L86.0,199.5 L87.0,199.4 L88.0,199.4 L89.0,199.3 L90.0,199.3 L91.0,199.3 L92.0,199.2 L93.0,199.2 L94.0,199.1 L95.0,199.1 L96.0,199.1 L97.0,199.0 L98.0,199.0 L99.0,198.9 L100.0,198.9 L101.0,198.8 L102.0,198.8 L103.0,198.7 L104.0,198.7 L105.0,198.7 L106.0,198.6 L107.0,198.6 L108.0,198.5 L109.0,198.5 L110.0,198.4 L111.0,198.4 L112.0,198.3 L113.0,198.3 L114.0,198.3 L115.0,198.2 L116.0,198.2 L117.0,198.1 L118.0,198.1 L119.0,198.0 L120.0,198.0 L121.0,198.0 L122.0,197.9 L123.0,197.9 L124.0,197.8 L125.0,197.8 L126.0,197.8 L127.0,197.7 L128.0,197.7 L129.0,197.7 L130.0,197.7 L131.0,197.7 L132.0,197.7 L133.0,197.7 L134.0,197.7 L135.0,197.7 L136.0,197.7 L137.0,197.7 L138.0,197.8 L139.0,197.8 L140.0,197.8 L141.0,197.9 L142.0,197.9 L143.0,198.0 L144.0,198.0 L145.0,198.1 L145.2,198.1" stroke="#ff00ff" stroke-width="1.0" stroke-dasharray="10.3 9.12" stroke-dashoffset="3.45"/>
<path d="M145.2,198.1 L146.2,198.1 L147.2,198.2 L148.2,198.2 L149.2,198.3 L150.2,198.4 L151.2,198.4 L152.2,198.5 L153.2,198.6 L154.2,198.6 L155.2,198.7 L156.2,198.8 L157.2,198.8 L158.2,198.9 L159.2,199.0 L160.2,199.0 L161.2,199.1 L162.2,199.2 L163.2,199.2 L164.2,199.3 L165.2,199.4 L166.2,199.4 L167.2,199.5 L168.2,199.6 L169.2,199.6 L170.2,199.7 L171.2,199.7 L172.2,199.8 L173.2,199.9 L174.2,199.9 L175.2,200.0 L176.2,200.0 L177.2,200.1 L178.2,200.2 L179.2,200.2 L180.2,200.3 L181.2,200.4 L182.2,200.5 L183.2,200.5 L184.2,200.6 L185.2,200.7 L186.2,200.8 L187.2,200.9 L188.2,201.0 L189.2,201.1 L190.2,201.2 L191.2,201.3 L192.2,201.4 L193.2,201.5 L194.2,201.6 L195.2,201.7 L196.2,201.9 L197.2,202.0 L198.2,202.2 L199.2,202.3 L200.2,202.5 L201.2,202.6 L202.2,202.8 L203.2,203.0 L204.2,203.2 L205.2,203.4 L206.2,203.6 L207.2,203.8 L208.2,204.0 L209.2,204.2 L210.2,204.5 L211.2,204.7 L212.2,205.0 L213.2,205.2 L214.2,205.5 L215.2,205.7 L216.2,206.0 L217.2,206.3 L218.2,206.5 L219.2,206.8 L220.2,207.0 L221.2,207.3 L222.2,207.5 L223.2,207.8 L224.2,208.0 L225.2,208.3 L226.2,208.5 L227.2,208.8 L228.2,209.0 L229.2,209.3 L230.2,209.5 L231.2,209.8 L232.2,210.1 L233.2,210.3 L234.2,210.7 L235.2,211.0 L236.2,211.3 L237.2,211.7 L238.2,212.0 L239.2,212.4 L240.2,212.7 L241.2,213.1 L242.2,213.4 L243.2,213.8 L244.2,214.1 L245.2,214.5 L246.2,214.8 L247.2,215.2 L248.2,215.5 L249.2,215.9 L250.2,216.3 L251.2,216.7 L252.2,217.0 L253.2,217.4 L254.2,217.8 L255.2,218.2 L256.2,218.6 L257.2,219.0 L258.2,219.4 L259.2,219.8 L260.2,220.2 L261.2,220.6 L262.2,221.0 L263.2,221.3 L264.2,221.7 L265.2,222.1 L266.2,222.4 L267.2,222.9 L268.2,223.3 L269.2,223.7 L270.2,224.2 L271.2,224.7 L272.2,225.1 L273.2,225.6 L274.2,226.0 L275.2,226.5 L276.2,227.0 L277.2,227.4 L278.2,227.9 L279.2,228.3 L280.2,228.8 L281.2,229.3 L282.2,229.7 L283.2,230.2 L284.2,230.6 L285.2,231.1 L286.2,231.6 L287.2,232.0 L288.2,232.5 L289.2,233.1 L290.2,233.7 L291.2,234.2 L292.2,234.8 L293.2,235.3 L294.2,235.9 L295.2,236.3 L296.2,236.8 L297.2,237.2 L298.2,237.7 L299.2,238.1 L300.2,238.5 L301.2,238.9 L302.2,239.3 L303.2,239.8 L304.2,240.2 L305.2,240.7 L306.2,241.2 L307.2,241.7 L308.2,242.2 L309.2,242.7 L310.2,243.2 L311.2,243.7 L312.2,244.1 L313.2,244.4 L314.2,244.7 L315.2,245.0 L316.2,245.3 L317.2,245.6 L318.2,245.9 L319.2,246.2 L320.2,246.5 L321.2,246.8 L322.2,247.1 L323.2,247.4 L324.2,247.7 L325.2,248.0 L326.2,248.4 L327.2,248.7 L328.2,249.0 L329.2,249.3 L330.2,249.6 L331.2,249.9 L332.2,250.3 L333.2,250.6 L334.2,250.9 L335.2,251.2 L336.2,251.5 L337.2,251.8 L338.2,252.1 L339.2,252.4 L340.2,252.7 L341.2,253.0 L342.2,253.3 L343.2,253.6 L344.2,253.9 L345.2,254.2 L346.2,254.5 L347.2,254.7 L348.2,255.0 L349.2,255.3 L350.2,255.6 L351.2,255.8 L352.2,256.1 L353.2,256.4 L354.2,256.7 L355.2,256.9 L356.2,257.2 L357.2,257.5 L358.2,257.7 L359.2,258.0 L360.2,258.2 L361.2,258.4 L362.2,258.6 L363.2,258.8 L364.2,259.0 L365.2,259.3 L366.2,259.5 L367.2,259.7 L368.2,259.9 L369.2,260.1 L370.2,260.4 L371.2,260.6 L372.2,260.9 L373.2,261.2 L374.2,261.5 L375.2,261.8 L376.2,262.1 L377.2,262.5 L378.2,262.9 L379.2,263.3 L380.2,263.7 L381.2,264.2 L382.2,264.7 L383.2,265.1 L384.2,265.6 L385.2,266.0 L386.2,266.5 L387.2,266.9 L388.2,267.3 L389.2,267.7 L390.2,268.0 L391.2,268.3 L392.2,268.7 L393.2,269.0 L394.2,269.4 L395.2,269.8 L396.2,270.4 L397.2,271.0 L398.2,271.7 L399.2,272.5 L400.2,273.2 L401.2,274.1 L402.2,274.9 L403.2,275.7 L404.2,276.6 L405.2,277.4 L406.2,278.2 L407.2,279.1 L408.2,280.0 L409.2,280.9 L410.2,281.8 L411.2,282.7 L412.2,283.6 L413.2,284.6 L414.2,285.5 L415.2,286.5 L416.2,287.4 L417.2,288.3 L418.2,289.3 L419.2,290.2 L420.2,291.1 L421.2,292.0 L422.2,292.9 L423.2,293.8 L424.2,294.7 L425.2,295.5 L426.2,296.3 L427.2,296.9 L428.2,297.6 L429.2,298.2 L430.2,298.8 L431.2,299.3 L432.2,299.9 L433.2,300.5 L434.2,301.0 L435.2,301.5 L436.2,302.0 L437.2,302.5 L438.2,302.9 L439.2,303.3 L440.2,303.6 L441.2,303.9 L442.2,304.0 L443.2,304.2 L444.2,304.2 L445.2,304.3 L446.2,304.3 L447.2,304.3 L448.0,304.3" stroke="#ff00ff" stroke-width="1.0" stroke-dasharray="10.3 9.12" stroke-dashoffset="0"/>
<path d="M54.0,223.3 L55.0,223.2 L56.0,223.1 L57.0,223.0 L58.0,223.0 L59.0,222.9 L60.0,222.8 L61.0,222.7 L62.0,222.6 L62.3,222.6" stroke="#ff00ff" stroke-width="1.0"/>
<path d="M62.3,222.6 L63.3,222.5 L64.3,222.5 L65.3,222.4 L66.3,222.3 L67.3,222.3 L68.3,222.2 L69.3,222.1 L70.3,222.1 L71.3,222.0 L72.3,221.9 L73.3,221.9 L74.3,221.8 L75.3,221.8 L76.3,221.7 L77.3,221.7 L78.3,221.6 L79.3,221.5 L80.3,221.5 L81.3,221.5 L82.3,221.4 L83.3,221.4 L84.3,221.3 L85.3,221.3 L86.3,221.2 L87.3,221.2 L88.3,221.2 L89.3,221.1 L90.3,221.1 L91.3,221.1 L92.3,221.0 L93.3,221.0 L94.3,221.0 L95.3,220.9 L96.3,220.9 L97.3,220.9 L98.3,220.9 L99.3,220.8 L100.3,220.8 L101.3,220.8 L102.3,220.8 L103.3,220.8 L104.3,220.7 L105.3,220.7 L106.3,220.7 L107.3,220.7 L108.3,220.7 L109.3,220.7 L110.3,220.7 L111.3,220.7 L112.3,220.7 L113.3,220.7 L114.3,220.7 L115.3,220.7 L116.3,220.7 L117.3,220.7 L118.3,220.7 L119.3,220.7 L120.3,220.7 L121.3,220.7 L122.3,220.7 L123.3,220.7 L124.3,220.7 L125.3,220.8 L126.3,220.8 L127.3,220.8 L128.3,220.8 L129.3,220.8 L130.3,220.9 L131.3,220.9 L132.3,220.9 L133.3,220.9 L134.3,221.0 L135.3,221.0 L136.3,221.0 L137.3,221.1 L138.3,221.1 L139.3,221.1 L140.3,221.2 L141.3,221.2 L142.3,221.3 L143.3,221.3 L144.3,221.4 L145.3,221.4 L146.3,221.5 L147.3,221.5 L148.3,221.6 L149.3,221.6 L150.3,221.7 L151.3,221.7 L152.3,221.8 L153.3,221.9 L154.3,221.9 L155.3,222.0 L156.3,222.0 L157.3,222.1 L158.3,222.2 L159.3,222.2 L160.3,222.3 L161.3,222.4 L162.3,222.5 L163.3,222.5 L164.3,222.6 L165.3,222.7 L166.3,222.8 L167.3,222.9 L168.3,223.0 L169.3,223.0 L170.3,223.1 L171.3,223.2 L172.3,223.3 L173.3,223.4 L174.3,223.5 L175.3,223.6 L176.3,223.7 L177.3,223.8 L178.3,223.9 L179.3,224.0 L180.3,224.1 L181.3,224.3 L182.3,224.4 L183.3,224.5 L184.3,224.6 L185.3,224.8 L186.3,224.9 L187.3,225.0 L188.3,225.2 L189.3,225.3 L190.3,225.5 L191.3,225.6 L192.3,225.8 L193.3,225.9 L194.3,226.1 L195.3,226.3 L196.3,226.5 L197.3,226.6 L198.3,226.8 L199.3,227.0 L200.3,227.2 L201.3,227.4 L202.3,227.6 L203.3,227.8 L204.3,228.0 L205.3,228.3 L206.3,228.5 L207.3,228.7 L208.3,228.9 L209.3,229.1 L210.3,229.3 L211.3,229.6 L212.3,229.8 L213.3,230.0 L214.3,230.2 L215.3,230.5 L216.3,230.7 L217.3,230.9 L218.3,231.1 L219.3,231.4 L220.3,231.6 L221.3,231.8 L222.3,232.1 L223.3,232.3 L224.3,232.5 L225.3,232.8 L226.3,233.0 L227.3,233.2 L228.3,233.5 L229.3,233.7 L230.3,234.0 L231.3,234.2 L232.3,234.4 L233.3,234.7 L234.3,234.9 L235.3,235.2 L236.3,235.4 L237.3,235.7 L238.3,235.9 L239.3,236.2 L240.3,236.4 L241.3,236.7 L242.3,236.9 L243.3,237.1 L244.3,237.4 L245.3,237.6 L246.3,237.9 L247.3,238.1 L248.3,238.4 L249.3,238.6 L250.3,238.9 L251.3,239.1 L252.3,239.4 L253.3,239.6 L254.3,239.9 L255.3,240.1 L256.3,240.4 L257.3,240.7 L258.3,240.9 L259.3,241.2 L260.3,241.4 L261.3,241.7 L262.3,242.0 L263.3,242.2 L264.3,242.5 L265.3,242.8 L266.3,243.1 L267.3,243.3 L268.3,243.6 L269.3,243.9 L270.3,244.2 L271.3,244.4 L272.3,244.7 L273.3,245.0 L274.3,245.2 L275.3,245.5 L276.3,245.8 L277.3,246.0 L278.3,246.3 L279.3,246.6 L280.3,246.8 L281.3,247.1 L282.3,247.3 L283.3,247.6 L284.3,247.8 L285.3,248.1 L286.3,248.3 L287.3,248.6 L288.3,248.8 L289.3,249.1 L290.3,249.3 L291.3,249.5 L292.3,249.7 L293.3,249.9 L294.3,250.1 L295.3,250.3 L296.3,250.5 L297.3,250.7 L298.3,250.9 L299.3,251.1 L300.3,251.3 L301.3,251.5 L302.3,251.7 L303.3,251.9 L304.3,252.1 L305.3,252.3 L306.3,252.5 L307.3,252.7 L308.3,252.9 L309.3,253.1 L310.3,253.3 L311.3,253.5 L312.3,253.7 L313.3,253.9 L314.3,254.0 L315.3,254.2 L316.3,254.3 L317.3,254.5 L318.3,254.6 L319.3,254.7 L320.3,254.9 L321.3,255.0 L322.3,255.1 L323.3,255.2 L324.3,255.3 L325.3,255.5 L326.3,255.6 L327.3,255.7 L328.3,255.8 L329.3,255.9 L330.3,256.1 L331.3,256.2 L332.3,256.3 L333.3,256.4 L334.3,256.6 L335.3,256.7 L336.3,256.8 L337.3,256.9 L338.3,257.1 L339.3,257.2 L340.3,257.3 L341.3,257.4 L342.3,257.6 L343.3,257.7 L344.3,257.8 L345.3,257.9 L346.3,258.1 L347.3,258.2 L348.3,258.4 L349.3,258.5 L350.3,258.7 L351.3,258.9 L352.3,259.0 L353.3,259.2 L354.3,259.4 L355.3,259.5 L356.3,259.7 L357.3,259.9 L358.3,260.0 L359.3,260.2 L360.3,260.4 L361.3,260.6 L362.3,260.7 L363.3,260.9 L364.3,261.1 L365.3,261.3 L366.3,261.5 L367.3,261.7 L368.3,261.9 L369.3,262.1 L370.3,262.3 L371.3,262.5 L372.3,262.7 L373.3,263.0 L374.3,263.2 L375.3,263.5 L376.3,263.8 L377.3,264.1 L378.3,264.4 L379.3,264.7 L380.3,265.1 L381.3,265.4 L382.3,265.7 L383.3,266.0 L384.3,266.4 L385.3,266.7 L386.3,267.0 L387.3,267.3 L388.3,267.6 L389.3,268.0 L390.3,268.3 L391.3,268.6 L392.3,269.0 L393.3,269.3 L394.3,269.7 L395.3,270.2 L396.3,270.7 L397.3,271.3 L398.3,272.0 L399.3,272.8 L400.3,273.5 L401.3,274.4 L402.3,275.2 L403.3,276.0 L404.3,276.8 L405.3,277.7 L406.3,278.5 L407.3,279.4 L408.3,280.3 L409.3,281.2 L410.3,282.1 L411.3,283.0 L412.3,283.9 L413.3,284.9 L414.3,285.8 L415.3,286.7 L416.3,287.7 L417.3,288.6 L418.3,289.5 L419.3,290.5 L420.3,291.4 L421.3,292.3 L422.3,293.2 L423.3,294.1 L424.3,294.9 L425.3,295.7 L426.3,296.5 L427.3,297.1 L428.3,297.7 L429.3,298.3 L430.3,298.9 L431.3,299.5 L432.3,300.1 L433.3,300.6 L434.3,301.1 L435.3,301.6 L436.3,302.1 L437.3,302.6 L438.3,303.0 L439.3,303.4 L440.3,303.7 L441.3,303.9 L442.3,304.1 L443.3,304.2 L444.3,304.3 L445.3,304.3 L446.3,304.3 L447.3,304.3 L448.0,304.3" stroke="#ff00ff" stroke-width="1.0" stroke-dasharray="10.3 9.12" stroke-dashoffset="0"/>
<path d="M100.0,-12.0 L101.0,-11.1 L102.0,-10.2 L103.0,-9.3 L104.0,-8.4 L105.0,-7.5 L106.0,-6.6 L107.0,-5.7 L108.0,-4.8 L109.0,-3.9 L110.0,-3.0 L111.0,-2.1 L112.0,-1.2 L113.0,-0.3 L114.0,0.6 L115.0,1.5 L116.0,2.5 L117.0,3.4 L118.0,4.3 L119.0,5.1 L120.0,6.0 L121.0,6.9 L122.0,7.8 L123.0,8.7 L124.0,9.6 L125.0,10.5 L126.0,11.4 L127.0,12.3 L128.0,13.2 L129.0,14.1 L130.0,15.0 L131.0,15.9 L132.0,16.8 L133.0,17.8 L134.0,18.7 L135.0,19.7 L136.0,20.7 L137.0,21.7 L138.0,22.7 L139.0,23.8 L140.0,24.8 L141.0,25.9 L142.0,27.0 L143.0,28.1 L144.0,29.2 L145.0,30.3 L146.0,31.5 L147.0,32.6 L148.0,33.8 L149.0,34.9 L150.0,36.1 L151.0,37.3 L152.0,38.5 L153.0,39.8 L154.0,41.0 L155.0,42.2 L156.0,43.5 L157.0,44.8 L158.0,46.0 L159.0,47.3 L160.0,48.6 L161.0,49.9 L162.0,51.2 L163.0,52.6 L164.0,53.9 L165.0,55.2 L166.0,56.6 L167.0,58.0 L168.0,59.3 L169.0,60.7 L170.0,62.1 L171.0,63.4 L172.0,64.8 L173.0,66.2 L174.0,67.6 L175.0,68.9 L176.0,70.3 L177.0,71.7 L178.0,73.0 L179.0,74.4 L180.0,75.7 L181.0,77.1 L182.0,78.4 L183.0,79.7 L184.0,81.0 L185.0,82.3 L186.0,83.6 L187.0,84.9 L188.0,86.2 L189.0,87.4 L190.0,88.7 L191.0,90.0 L192.0,91.3 L193.0,92.6 L194.0,93.9 L195.0,95.2 L196.0,96.5 L197.0,97.9 L198.0,99.3 L199.0,100.7 L200.0,102.2 L201.0,103.6 L202.0,105.1 L203.0,106.5 L204.0,108.0 L205.0,109.4 L206.0,110.8 L207.0,112.2 L208.0,113.5 L209.0,114.9 L210.0,116.2 L211.0,117.5 L212.0,118.8 L213.0,120.1 L214.0,121.5 L215.0,122.8 L216.0,124.1 L217.0,125.5 L218.0,126.9 L219.0,128.4 L220.0,129.9 L221.0,131.4 L222.0,132.9 L223.0,134.4 L224.0,136.0 L225.0,137.4 L226.0,138.9 L227.0,140.3 L228.0,141.6 L229.0,143.0 L230.0,144.3 L231.0,145.6 L232.0,147.0 L233.0,148.3 L234.0,149.6 L235.0,150.8 L236.0,152.1 L237.0,153.4 L238.0,154.6 L239.0,155.9 L240.0,157.1 L241.0,158.4 L242.0,159.6 L243.0,160.8 L244.0,162.0 L245.0,163.2 L246.0,164.4 L247.0,165.6 L248.0,166.8 L249.0,168.0 L250.0,169.2 L251.0,170.3 L252.0,171.5 L253.0,172.7 L254.0,173.8 L255.0,175.0 L256.0,176.1 L257.0,177.3 L258.0,178.4 L259.0,179.6 L260.0,180.7 L261.0,181.8 L262.0,182.9 L263.0,184.1 L264.0,185.2 L265.0,186.3 L266.0,187.4 L267.0,188.5 L268.0,189.7 L269.0,190.8 L270.0,191.9 L271.0,193.0 L272.0,194.1 L273.0,195.2 L274.0,196.3 L275.0,197.4 L276.0,198.5 L277.0,199.6 L278.0,200.7 L279.0,201.8 L280.0,202.9 L281.0,204.0 L282.0,205.1 L283.0,206.2 L284.0,207.2 L285.0,208.3 L286.0,209.4 L287.0,210.4 L288.0,211.5 L289.0,212.5 L290.0,213.5 L291.0,214.5 L292.0,215.5 L293.0,216.5 L294.0,217.5 L295.0,218.4 L296.0,219.3 L297.0,220.2 L298.0,221.1 L299.0,221.9 L300.0,222.8 L301.0,223.6 L302.0,224.4 L303.0,225.1 L304.0,225.8 L305.0,226.5 L306.0,227.2 L307.0,227.9 L308.0,228.5 L309.0,229.1 L310.0,229.8 L311.0,230.4 L312.0,231.0 L313.0,231.6 L314.0,232.2 L315.0,232.7 L316.0,233.3 L317.0,233.9 L318.0,234.5 L319.0,235.1 L320.0,235.7 L321.0,236.2 L322.0,236.8 L323.0,237.4 L324.0,238.0 L325.0,238.5 L326.0,239.1 L327.0,239.7 L328.0,240.3 L329.0,240.8 L330.0,241.4 L331.0,242.0 L332.0,242.5 L333.0,243.1 L334.0,243.7 L335.0,244.2 L336.0,244.8 L337.0,245.3 L338.0,245.9 L339.0,246.4 L340.0,246.9 L341.0,247.5 L342.0,248.0 L343.0,248.5 L344.0,249.0 L345.0,249.5 L346.0,250.0 L347.0,250.5 L348.0,250.9 L349.0,251.4 L350.0,251.8 L351.0,252.2 L352.0,252.6 L353.0,253.0 L354.0,253.4 L355.0,253.8 L356.0,254.1 L357.0,254.5 L358.0,254.8 L359.0,255.2 L360.0,255.5 L361.0,255.9 L362.0,256.2 L363.0,256.5 L364.0,256.9 L365.0,257.2 L366.0,257.5 L367.0,257.8 L368.0,258.2 L369.0,258.5 L370.0,258.8 L371.0,259.2 L372.0,259.5 L373.0,259.8 L374.0,260.0 L375.0,260.3 L376.0,260.5 L377.0,260.7 L378.0,261.0 L379.0,261.2 L380.0,261.5 L381.0,261.7 L382.0,262.0 L383.0,262.3 L384.0,262.7 L385.0,263.2 L386.0,263.8 L387.0,264.5 L388.0,265.1 L389.0,265.6 L390.0,265.9 L391.0,266.1 L392.0,266.3 L393.0,266.6 L394.0,267.0 L395.0,267.6 L396.0,268.4 L397.0,269.1 L398.0,269.9 L399.0,270.7 L400.0,271.5 L401.0,272.4 L402.0,273.2 L403.0,274.1 L404.0,274.9 L405.0,275.7 L406.0,276.6 L407.0,277.4 L408.0,278.3 L409.0,279.2 L410.0,280.1 L411.0,281.0 L412.0,282.0 L413.0,282.9 L414.0,283.9 L415.0,284.8 L416.0,285.8 L417.0,286.7 L418.0,287.7 L419.0,288.6 L420.0,289.6 L421.0,290.6 L422.0,291.5 L423.0,292.5 L424.0,293.4 L425.0,294.3 L426.0,295.1 L427.0,295.9 L428.0,296.5 L429.0,297.2 L430.0,297.8 L431.0,298.5 L432.0,299.1 L433.0,299.7 L434.0,300.3 L435.0,300.8 L436.0,301.4 L437.0,301.9 L438.0,302.4 L439.0,302.8 L440.0,303.2 L441.0,303.5 L442.0,303.7 L443.0,303.9 L444.0,304.1 L445.0,304.2 L446.0,304.2 L447.0,304.3 L448.0,304.3" stroke="#00ffff" stroke-width="1.0"/>
<path d="M54.0,94.7 L55.0,94.3 L56.0,93.9 L57.0,93.4 L58.0,93.0 L59.0,92.6 L60.0,92.2 L61.0,91.8 L62.0,91.5 L63.0,91.1 L64.0,90.7 L65.0,90.3 L66.0,90.0 L67.0,89.6 L68.0,89.3 L69.0,88.9 L70.0,88.6 L71.0,88.3 L72.0,87.9 L73.0,87.6 L74.0,87.3 L75.0,87.0 L76.0,86.7 L77.0,86.4 L78.0,86.1 L79.0,85.8 L80.0,85.5 L81.0,85.2 L82.0,85.0 L83.0,84.7 L84.0,84.4 L85.0,84.2 L86.0,83.9 L87.0,83.7 L88.0,83.5 L89.0,83.2 L90.0,83.0 L91.0,82.8 L92.0,82.6 L93.0,82.4 L94.0,82.2 L95.0,82.0 L96.0,81.8 L97.0,81.6 L98.0,81.4 L99.0,81.3 L100.0,81.1 L101.0,80.9 L102.0,80.8 L103.0,80.6 L104.0,80.5 L105.0,80.3 L106.0,80.2 L107.0,80.0 L108.0,79.9 L109.0,79.8 L110.0,79.7 L111.0,79.6 L112.0,79.5 L113.0,79.4 L114.0,79.3 L115.0,79.3 L116.0,79.2 L117.0,79.2 L118.0,79.1 L119.0,79.1 L120.0,79.1 L121.0,79.1 L122.0,79.1 L123.0,79.1 L124.0,79.1 L125.0,79.2 L126.0,79.2 L127.0,79.3 L128.0,79.3 L129.0,79.4 L130.0,79.5 L131.0,79.6 L132.0,79.7 L133.0,79.8 L134.0,80.0 L135.0,80.1 L136.0,80.3 L137.0,80.4 L138.0,80.6 L139.0,80.8 L140.0,80.9 L141.0,81.1 L142.0,81.3 L143.0,81.6 L144.0,81.8 L145.0,82.0 L146.0,82.2 L147.0,82.5 L148.0,82.8 L149.0,83.0 L150.0,83.3 L151.0,83.6 L152.0,84.0 L153.0,84.3 L154.0,84.7 L155.0,85.0 L156.0,85.4 L157.0,85.8 L158.0,86.2 L159.0,86.7 L160.0,87.1 L161.0,87.6 L162.0,88.0 L163.0,88.5 L164.0,89.0 L165.0,89.5 L166.0,90.1 L167.0,90.6 L168.0,91.2 L169.0,91.8 L170.0,92.4 L171.0,93.0 L172.0,93.6 L173.0,94.3 L174.0,95.0 L175.0,95.7 L176.0,96.4 L177.0,97.1 L178.0,97.8 L179.0,98.6 L180.0,99.3 L181.0,100.1 L182.0,100.9 L183.0,101.7 L184.0,102.5 L185.0,103.4 L186.0,104.3 L187.0,105.2 L188.0,106.2 L189.0,107.2 L190.0,108.2 L191.0,109.2 L192.0,110.2 L193.0,111.2 L194.0,112.2 L195.0,113.2 L196.0,114.2 L197.0,115.2 L198.0,116.2 L199.0,117.2 L200.0,118.2 L201.0,119.2 L202.0,120.2 L203.0,121.2 L204.0,122.2 L205.0,123.2 L206.0,124.2 L207.0,125.2 L208.0,126.2 L209.0,127.2 L210.0,128.2 L211.0,129.2 L212.0,130.2 L213.0,131.2 L214.0,132.2 L215.0,133.1 L216.0,134.0 L217.0,134.8 L218.0,135.6 L219.0,136.4 L220.0,137.3 L221.0,138.1 L222.0,139.1 L223.0,140.1 L224.0,141.2 L225.0,142.3 L226.0,143.4 L227.0,144.5 L228.0,145.7 L229.0,146.8 L230.0,148.0 L231.0,149.2 L232.0,150.4 L233.0,151.6 L234.0,152.8 L235.0,154.0 L236.0,155.2 L237.0,156.4 L238.0,157.6 L239.0,158.8 L240.0,160.0 L241.0,161.2 L242.0,162.4 L243.0,163.6 L244.0,164.8 L245.0,166.0 L246.0,167.1 L247.0,168.3 L248.0,169.4 L249.0,170.5 L250.0,171.6 L251.0,172.8 L252.0,173.9 L253.0,175.0 L254.0,176.1 L255.0,177.2 L256.0,178.3 L257.0,179.4 L258.0,180.6 L259.0,181.7 L260.0,182.8 L261.0,183.9 L262.0,185.0 L263.0,186.1 L264.0,187.2 L265.0,188.3 L266.0,189.4 L267.0,190.5 L268.0,191.5 L269.0,192.6 L270.0,193.7 L271.0,194.8 L272.0,195.9 L273.0,197.0 L274.0,198.1 L275.0,199.1 L276.0,200.2 L277.0,201.3 L278.0,202.4 L279.0,203.4 L280.0,204.5 L281.0,205.6 L282.0,206.6 L283.0,207.7 L284.0,208.7 L285.0,209.7 L286.0,210.8 L287.0,211.8 L288.0,212.8 L289.0,213.8 L290.0,214.8 L291.0,215.8 L292.0,216.7 L293.0,217.7 L294.0,218.6 L295.0,219.6 L296.0,220.5 L297.0,221.4 L298.0,222.3 L299.0,223.2 L300.0,224.0 L301.0,224.9 L302.0,225.7 L303.0,226.5 L304.0,227.3 L305.0,228.0 L306.0,228.8 L307.0,229.5 L308.0,230.2 L309.0,230.8 L310.0,231.5 L311.0,232.1 L312.0,232.7 L313.0,233.4 L314.0,234.0 L315.0,234.5 L316.0,235.1 L317.0,235.7 L318.0,236.3 L319.0,236.9 L320.0,237.4 L321.0,238.0 L322.0,238.6 L323.0,239.2 L324.0,239.7 L325.0,240.3 L326.0,240.9 L327.0,241.4 L328.0,242.0 L329.0,242.5 L330.0,243.1 L331.0,243.7 L332.0,244.2 L333.0,244.8 L334.0,245.3 L335.0,245.9 L336.0,246.4 L337.0,246.9 L338.0,247.5 L339.0,248.0 L340.0,248.5 L341.0,249.1 L342.0,249.6 L343.0,250.1 L344.0,250.6 L345.0,251.1 L346.0,251.6 L347.0,252.1 L348.0,252.5 L349.0,253.0 L350.0,253.4 L351.0,253.8 L352.0,254.2 L353.0,254.6 L354.0,255.0 L355.0,255.3 L356.0,255.7 L357.0,256.0 L358.0,256.4 L359.0,256.7 L360.0,257.0 L361.0,257.3 L362.0,257.6 L363.0,258.0 L364.0,258.3 L365.0,258.6 L366.0,258.9 L367.0,259.2 L368.0,259.5 L369.0,259.8 L370.0,260.1 L371.0,260.5 L372.0,260.7 L373.0,261.0 L374.0,261.2 L375.0,261.4 L376.0,261.6 L377.0,261.7 L378.0,261.9 L379.0,262.1 L380.0,262.3 L381.0,262.5 L382.0,262.8 L383.0,263.1 L384.0,263.4 L385.0,263.9 L386.0,264.7 L387.0,265.5 L388.0,266.1 L389.0,266.6 L390.0,266.9 L391.0,267.1 L392.0,267.3 L393.0,267.6 L394.0,268.0 L395.0,268.6 L396.0,269.4 L397.0,270.1 L398.0,270.9 L399.0,271.7 L400.0,272.6 L401.0,273.4 L402.0,274.2 L403.0,275.1 L404.0,275.9 L405.0,276.8 L406.0,277.6 L407.0,278.4 L408.0,279.3 L409.0,280.2 L410.0,281.1 L411.0,282.0 L412.0,283.0 L413.0,283.9 L414.0,284.8 L415.0,285.8 L416.0,286.7 L417.0,287.7 L418.0,288.6 L419.0,289.5 L420.0,290.5 L421.0,291.4 L422.0,292.3 L423.0,293.2 L424.0,294.2 L425.0,295.0 L426.0,295.8 L427.0,296.5 L428.0,297.1 L429.0,297.8 L430.0,298.4 L431.0,299.0 L432.0,299.6 L433.0,300.1 L434.0,300.7 L435.0,301.2 L436.0,301.7 L437.0,302.2 L438.0,302.7 L439.0,303.1 L440.0,303.4 L441.0,303.7 L442.0,303.9 L443.0,304.1 L444.0,304.2 L445.0,304.2 L446.0,304.3 L447.0,304.3 L448.0,304.3" stroke="#00ffff" stroke-width="1.0"/>
</g>
<g fill="none">
<path d="M213.15,25.0H248" stroke="#000" stroke-width="1.3" stroke-dasharray="1.3 7.0"/>
<path d="M209,42.5H248" stroke="#0000ff" stroke-width="1"/>
<path d="M216.1,59.9H248" stroke="#ff0000" stroke-width="1" stroke-dasharray="8.6 6.8 1.2 6.8"/>
<path d="M209,77.5H248" stroke="#00ff00" stroke-width="1"/>
<path d="M217.8,92.5H248" stroke="#ff00ff" stroke-width="1" stroke-dasharray="10.4 8.9"/>
<path d="M209,108.5H248" stroke="#00ffff" stroke-width="1"/>
</g>
<g font-family="Liberation Serif, serif" fill="#000" stroke="#000" stroke-width="0.25">
<text transform="translate(262.30,28.00) scale(0.928,1)" font-size="13.5">old,</text>
<text transform="translate(289.15,28.00) scale(0.860,1)" font-size="13.5">Q</text>
<text transform="translate(298.40,23.60) scale(1.275,1)" font-size="8.6">2</text>
<text transform="translate(304.30,28.00) scale(0.986,1)" font-size="13.5">=</text>
<text transform="translate(312.58,28.00) scale(0.920,1)" font-size="13.5">1</text>
<text transform="translate(325.80,28.00) scale(0.894,1)" font-size="13.5">GeV</text>
<text transform="translate(349.30,23.60) scale(1.250,1)" font-size="8.6">2</text>
<text transform="translate(262.30,45.24) scale(1.028,1)" font-size="13.5">new,</text>
<text transform="translate(293.75,45.24) scale(0.860,1)" font-size="13.5">Q</text>
<text transform="translate(303.00,40.84) scale(1.275,1)" font-size="8.6">2</text>
<text transform="translate(308.90,45.24) scale(0.986,1)" font-size="13.5">=</text>
<text transform="translate(316.80,45.24) scale(1.000,1)" font-size="13.5">1</text>
<text transform="translate(330.90,45.24) scale(0.882,1)" font-size="13.5">GeV</text>
<text transform="translate(354.00,40.84) scale(1.200,1)" font-size="8.6">2</text>
<text transform="translate(262.30,62.48) scale(1.017,1)" font-size="13.5">old</text>
<text transform="translate(286.15,62.48) scale(0.860,1)" font-size="13.5">Q</text>
<text transform="translate(294.90,58.08) scale(1.250,1)" font-size="8.6">2</text>
<text transform="translate(300.70,62.48) scale(0.871,1)" font-size="13.5">=</text>
<text transform="translate(308.47,62.48) scale(1.027,1)" font-size="13.5">10</text>
<text transform="translate(330.30,62.48) scale(0.894,1)" font-size="13.5">GeV</text>
<text transform="translate(353.60,58.08) scale(1.225,1)" font-size="8.6">2</text>
<text transform="translate(262.30,79.72) scale(0.901,1)" font-size="13.5">new</text>
<text transform="translate(290.10,79.72) scale(0.860,1)" font-size="13.5">Q</text>
<text transform="translate(298.80,75.32) scale(1.275,1)" font-size="8.6">2</text>
<text transform="translate(305.20,79.72) scale(0.871,1)" font-size="13.5">=</text>
<text transform="translate(312.66,79.72) scale(1.035,1)" font-size="13.5">10</text>
<text transform="translate(334.30,79.72) scale(0.874,1)" font-size="13.5">GeV</text>
<text transform="translate(357.20,75.32) scale(1.225,1)" font-size="8.6">2</text>
<text transform="translate(262.30,96.96) scale(1.017,1)" font-size="13.5">old</text>
<text transform="translate(286.10,96.96) scale(0.860,1)" font-size="13.5">Q</text>
<text transform="translate(294.90,92.56) scale(1.275,1)" font-size="8.6">2</text>
<text transform="translate(300.70,96.96) scale(0.914,1)" font-size="13.5">=</text>
<text transform="translate(308.57,96.96) scale(1.128,1)" font-size="13.5">100</text>
<text transform="translate(338.18,96.96) scale(0.860,1)" font-size="13.5">GeV</text>
<text transform="translate(360.50,92.56) scale(1.175,1)" font-size="8.6">2</text>
<text transform="translate(262.30,114.20) scale(0.901,1)" font-size="13.5">new</text>
<text transform="translate(290.10,114.20) scale(0.860,1)" font-size="13.5">Q</text>
<text transform="translate(298.80,109.80) scale(1.275,1)" font-size="8.6">2</text>
<text transform="translate(305.20,114.20) scale(0.871,1)" font-size="13.5">=</text>
<text transform="translate(312.58,114.20) scale(1.123,1)" font-size="13.5">100</text>
<text transform="translate(342.13,114.20) scale(0.860,1)" font-size="13.5">GeV</text>
<text transform="translate(364.50,109.80) scale(1.200,1)" font-size="8.6">2</text>
<text transform="translate(27.60,309.00) scale(1.071,1)" font-size="12.3">0.0</text>
<text transform="translate(27.60,250.82) scale(1.071,1)" font-size="12.3">0.5</text>
<text transform="translate(26.45,192.64) scale(1.146,1)" font-size="12.3">1.0</text>
<text transform="translate(26.45,134.46) scale(1.146,1)" font-size="12.3">1.5</text>
<text transform="translate(27.60,76.28) scale(1.071,1)" font-size="12.3">2.0</text>
<text transform="translate(27.60,18.10) scale(1.071,1)" font-size="12.3">2.5</text>
<text transform="translate(2.60,135.60) scale(1.043,1)" font-size="11.8">F</text>
<text transform="translate(10.20,138.60) scale(1.250,1)" font-size="8.2">2</text>
<text transform="translate(247.20,334.50) scale(0.914,1)" font-size="13.3">x</text>
<text transform="translate(110.69,319.50) scale(1.111,1)" font-size="12.5">10</text>
<text transform="translate(126.10,315.50) scale(1.053,1)" font-size="12.5">−4</text>
<text transform="translate(190.06,319.50) scale(1.111,1)" font-size="12.5">10</text>
<text transform="translate(205.47,315.50) scale(1.134,1)" font-size="12.5">−3</text>
<text transform="translate(269.44,319.50) scale(1.111,1)" font-size="12.5">10</text>
<text transform="translate(284.85,315.50) scale(1.134,1)" font-size="12.5">−2</text>
<text transform="translate(348.81,319.50) scale(1.111,1)" font-size="12.5">10</text>
<text transform="translate(364.23,315.50) scale(1.134,1)" font-size="12.5">−1</text>
<text transform="translate(431.94,319.50) scale(1.058,1)" font-size="12.5">10</text>
<text transform="translate(446.20,315.20) scale(0.983,1)" font-size="12.5">0</text>
</g>
</svg>
</body></html>
